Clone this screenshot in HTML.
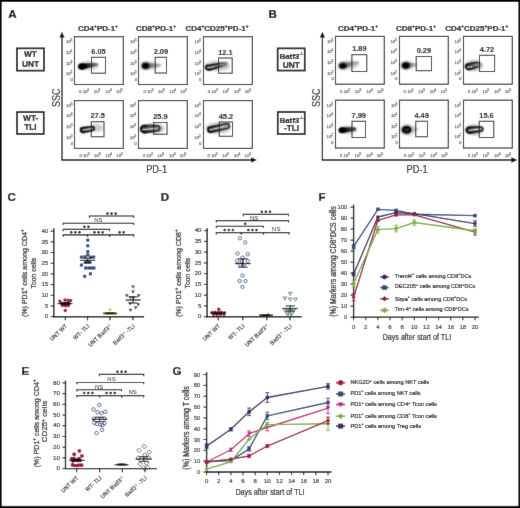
<!DOCTYPE html>
<html><head><meta charset="utf-8"><style>
html,body{margin:0;padding:0;background:#fff;width:520px;height:508px;overflow:hidden}
svg{display:block;will-change:transform}
text{font-family:"Liberation Sans", sans-serif}
</style></head><body>
<svg width="520" height="508" viewBox="0 0 520 508" font-family='"Liberation Sans", sans-serif'>
<filter id="gblur" x="0" y="0" width="520" height="508" filterUnits="userSpaceOnUse"><feConvolveMatrix order="3" kernelMatrix="0.0052 0.0619 0.0052 0.0619 0.7314 0.0619 0.0052 0.0619 0.0052" edgeMode="duplicate"/></filter><g filter="url(#gblur)"><rect x="0" y="0" width="520" height="508" fill="#fff"/>
<defs><filter id="b05" x="-50%" y="-50%" width="200%" height="200%"><feConvolveMatrix order="3" kernelMatrix="0.0311 0.1141 0.0311 0.1141 0.4191 0.1141 0.0311 0.1141 0.0311" edgeMode="none"/></filter><filter id="b1" x="-50%" y="-50%" width="200%" height="200%"><feGaussianBlur stdDeviation="1.1"/></filter><filter id="b04" x="-50%" y="-50%" width="200%" height="200%"><feConvolveMatrix order="3" kernelMatrix="0.0113 0.0838 0.0113 0.0838 0.6193 0.0838 0.0113 0.0838 0.0113" edgeMode="none"/></filter><filter id="b03" x="-50%" y="-50%" width="200%" height="200%"><feConvolveMatrix order="3" kernelMatrix="0.0016 0.0371 0.0016 0.0371 0.8450 0.0371 0.0016 0.0371 0.0016" edgeMode="none"/></filter></defs>
<text x="8.20" y="17.80" font-size="11.6" font-weight="bold" fill="#000" text-anchor="start"  stroke="#000" stroke-width="0.2">A</text>
<text x="268.60" y="17.80" font-size="11.6" font-weight="bold" fill="#000" text-anchor="start"  stroke="#000" stroke-width="0.2">B</text>
<rect x="16.95" y="48.35" width="27.00" height="22.30" stroke="#0a0a0a" stroke-width="1.7" fill="none" />
<text x="30.45" y="57.30" font-size="8.3" font-weight="bold" text-anchor="middle" fill="#111" stroke="#111" stroke-width="0.2">WT</text>
<text x="30.45" y="66.80" font-size="8.3" font-weight="bold" text-anchor="middle" fill="#111" stroke="#111" stroke-width="0.2">UNT</text>
<rect x="17.05" y="112.05" width="26.70" height="21.90" stroke="#0a0a0a" stroke-width="1.7" fill="none" />
<text x="30.70" y="120.70" font-size="8.3" font-weight="bold" text-anchor="middle" fill="#111" stroke="#111" stroke-width="0.2">WT-</text>
<text x="30.40" y="129.80" font-size="8.3" font-weight="bold" text-anchor="middle" fill="#111" stroke="#111" stroke-width="0.2">TLI</text>
<rect x="277.65" y="48.35" width="27.10" height="22.20" stroke="#0a0a0a" stroke-width="1.7" fill="none" />
<text x="291.40" y="58.50" font-size="7.9" font-weight="bold" text-anchor="middle" fill="#111" stroke="#111" stroke-width="0.2">Batf3<tspan dy="-3.4" font-size="4.4" font-weight="normal">-/-</tspan></text>
<text x="291.40" y="67.50" font-size="8.3" font-weight="bold" text-anchor="middle" fill="#111" stroke="#111" stroke-width="0.2">UNT</text>
<rect x="277.75" y="111.95" width="27.00" height="22.10" stroke="#0a0a0a" stroke-width="1.7" fill="none" />
<text x="291.45" y="122.60" font-size="7.9" font-weight="bold" text-anchor="middle" fill="#111" stroke="#111" stroke-width="0.2">Batf3<tspan dy="-3.4" font-size="4.4" font-weight="normal">-/-</tspan></text>
<text x="291.55" y="131.10" font-size="8.3" font-weight="bold" text-anchor="middle" fill="#111" stroke="#111" stroke-width="0.2">-TLI</text>
<text x="98.00" y="30.8" font-size="8.0" font-weight="bold" text-anchor="middle" fill="#111" stroke="#111" stroke-width="0.18"><tspan>CD4</tspan><tspan dy="-2.7" font-size="4.8">+</tspan><tspan dy="2.7">PD-1</tspan><tspan dy="-2.7" font-size="4.8">+</tspan></text>
<text x="156.00" y="30.8" font-size="8.0" font-weight="bold" text-anchor="middle" fill="#111" stroke="#111" stroke-width="0.18"><tspan>CD8</tspan><tspan dy="-2.7" font-size="4.8">+</tspan><tspan dy="2.7">PD-1</tspan><tspan dy="-2.7" font-size="4.8">+</tspan></text>
<text x="217.00" y="30.8" font-size="8.0" font-weight="bold" text-anchor="middle" fill="#111" stroke="#111" stroke-width="0.18"><tspan>CD4</tspan><tspan dy="-2.7" font-size="4.8">+</tspan><tspan dy="2.7">CD25</tspan><tspan dy="-2.7" font-size="4.8">+</tspan><tspan dy="2.7">PD-1</tspan><tspan dy="-2.7" font-size="4.8">+</tspan></text>
<text x="358.00" y="30.8" font-size="8.0" font-weight="bold" text-anchor="middle" fill="#111" stroke="#111" stroke-width="0.18"><tspan>CD4</tspan><tspan dy="-2.7" font-size="4.8">+</tspan><tspan dy="2.7">PD-1</tspan><tspan dy="-2.7" font-size="4.8">+</tspan></text>
<text x="416.00" y="30.8" font-size="8.0" font-weight="bold" text-anchor="middle" fill="#111" stroke="#111" stroke-width="0.18"><tspan>CD8</tspan><tspan dy="-2.7" font-size="4.8">+</tspan><tspan dy="2.7">PD-1</tspan><tspan dy="-2.7" font-size="4.8">+</tspan></text>
<text x="476.80" y="30.8" font-size="8.0" font-weight="bold" text-anchor="middle" fill="#111" stroke="#111" stroke-width="0.18"><tspan>CD4</tspan><tspan dy="-2.7" font-size="4.8">+</tspan><tspan dy="2.7">CD25</tspan><tspan dy="-2.7" font-size="4.8">+</tspan><tspan dy="2.7">PD-1</tspan><tspan dy="-2.7" font-size="4.8">+</tspan></text>
<line x1="62.00" y1="35.00" x2="62.00" y2="160.00" stroke="#111" stroke-width="1.3" />
<polygon points="59.40,37.5 62.00,31.8 64.60,37.5" fill="#111"/>
<line x1="61.35" y1="160.00" x2="254.00" y2="160.00" stroke="#111" stroke-width="1.3" />
<polygon points="251.00,157.3 257.00,160 251.00,162.7" fill="#111"/>
<text x="0" y="0" font-size="10.4" fill="#1a1a1a" stroke="#1a1a1a" stroke-width="0.2" text-anchor="middle" transform="translate(59.70 97.8) rotate(-90) scale(0.86 1)">SSC</text>
<text x="0" y="0" font-size="10.5" fill="#1a1a1a" stroke="#1a1a1a" stroke-width="0.2" text-anchor="middle" transform="translate(156.70 172.8) scale(0.88 1)">PD-1</text>
<line x1="322.40" y1="35.00" x2="322.40" y2="160.00" stroke="#111" stroke-width="1.3" />
<polygon points="319.80,37.5 322.40,31.8 325.00,37.5" fill="#111"/>
<line x1="321.75" y1="160.00" x2="514.40" y2="160.00" stroke="#111" stroke-width="1.3" />
<polygon points="511.40,157.3 517.40,160 511.40,162.7" fill="#111"/>
<text x="0" y="0" font-size="10.4" fill="#1a1a1a" stroke="#1a1a1a" stroke-width="0.2" text-anchor="middle" transform="translate(320.10 97.8) rotate(-90) scale(0.86 1)">SSC</text>
<text x="0" y="0" font-size="10.5" fill="#1a1a1a" stroke="#1a1a1a" stroke-width="0.2" text-anchor="middle" transform="translate(417.10 172.8) scale(0.88 1)">PD-1</text>
<rect x="74.50" y="36.70" width="48.80" height="47.80" stroke="#1e1e1e" stroke-width="1.1" fill="none" />
<text x="65.90" y="43.10" font-size="4.3" fill="#4a4a4a" stroke="#8a8a8a" stroke-width="0.25">10<tspan dx="-0.5" dy="-2.0" font-size="3.8">5</tspan></text>
<text x="65.90" y="53.50" font-size="4.3" fill="#4a4a4a" stroke="#8a8a8a" stroke-width="0.25">10<tspan dx="-0.5" dy="-2.0" font-size="3.8">4</tspan></text>
<text x="65.90" y="64.50" font-size="4.3" fill="#4a4a4a" stroke="#8a8a8a" stroke-width="0.25">10<tspan dx="-0.5" dy="-2.0" font-size="3.8">3</tspan></text>
<text x="65.90" y="74.90" font-size="4.3" fill="#4a4a4a" stroke="#8a8a8a" stroke-width="0.25">10<tspan dx="-0.5" dy="-2.0" font-size="3.8">2</tspan></text>
<text x="70.40" y="80.70" font-size="4.3" fill="#4a4a4a" stroke="#8a8a8a" stroke-width="0.25">0</text>
<text x="79.10" y="93.00" font-size="4.3" fill="#4a4a4a" stroke="#8a8a8a" stroke-width="0.25">0 10<tspan dx="-0.4" dy="-2.0" font-size="3.8">2</tspan></text>
<text x="93.80" y="93.00" font-size="4.3" fill="#4a4a4a" stroke="#8a8a8a" stroke-width="0.25">10<tspan dx="-0.4" dy="-2.0" font-size="3.8">3</tspan></text>
<text x="105.30" y="93.00" font-size="4.3" fill="#4a4a4a" stroke="#8a8a8a" stroke-width="0.25">10<tspan dx="-0.4" dy="-2.0" font-size="3.8">4</tspan></text>
<text x="116.00" y="93.00" font-size="4.3" fill="#4a4a4a" stroke="#8a8a8a" stroke-width="0.25">10<tspan dx="-0.4" dy="-2.0" font-size="3.8">5</tspan></text>
<g transform="rotate(0 82.20 66.60)"><ellipse cx="89.00" cy="65.50" rx="10.35" ry="4.32" fill="#6a6a6a" opacity="0.345" filter="url(#b1)"/><linearGradient id="g1" gradientUnits="userSpaceOnUse" x1="82.20" y1="0" x2="96.80" y2="0"><stop offset="0" stop-color="#050505"/><stop offset="0.35" stop-color="#1a1a1a"/><stop offset="1" stop-color="#9a9a9a"/></linearGradient><path d="M82.20,63.60 A4.00,3.00 0 0 0 82.20,69.60 L96.80,65.20 A0.70,0.70 0 0 0 96.80,63.80 Z" fill="url(#g1)" stroke="#2a2a2a" stroke-width="0.7" filter="url(#b04)"/><ellipse cx="82.20" cy="66.60" rx="4.00" ry="3.00" fill="#050505" filter="url(#b05)"/></g>
<rect x="91.50" y="57.30" width="14.00" height="15.90" stroke="#222" stroke-width="1" fill="none" />
<text x="98.50" y="54.00" font-size="7.4" font-weight="bold" fill="#111" text-anchor="middle" stroke="#111" stroke-width="0.08">6.05</text>
<rect x="138.50" y="36.70" width="48.80" height="47.80" stroke="#1e1e1e" stroke-width="1.1" fill="none" />
<text x="130.20" y="43.10" font-size="4.3" fill="#4a4a4a" stroke="#8a8a8a" stroke-width="0.25">10<tspan dx="-0.5" dy="-2.0" font-size="3.8">5</tspan></text>
<text x="130.20" y="53.50" font-size="4.3" fill="#4a4a4a" stroke="#8a8a8a" stroke-width="0.25">10<tspan dx="-0.5" dy="-2.0" font-size="3.8">4</tspan></text>
<text x="130.20" y="64.50" font-size="4.3" fill="#4a4a4a" stroke="#8a8a8a" stroke-width="0.25">10<tspan dx="-0.5" dy="-2.0" font-size="3.8">3</tspan></text>
<text x="130.20" y="74.90" font-size="4.3" fill="#4a4a4a" stroke="#8a8a8a" stroke-width="0.25">10<tspan dx="-0.5" dy="-2.0" font-size="3.8">2</tspan></text>
<text x="134.70" y="80.70" font-size="4.3" fill="#4a4a4a" stroke="#8a8a8a" stroke-width="0.25">0</text>
<text x="143.40" y="93.00" font-size="4.3" fill="#4a4a4a" stroke="#8a8a8a" stroke-width="0.25">0 10<tspan dx="-0.4" dy="-2.0" font-size="3.8">2</tspan></text>
<text x="158.10" y="93.00" font-size="4.3" fill="#4a4a4a" stroke="#8a8a8a" stroke-width="0.25">10<tspan dx="-0.4" dy="-2.0" font-size="3.8">3</tspan></text>
<text x="169.60" y="93.00" font-size="4.3" fill="#4a4a4a" stroke="#8a8a8a" stroke-width="0.25">10<tspan dx="-0.4" dy="-2.0" font-size="3.8">4</tspan></text>
<text x="180.30" y="93.00" font-size="4.3" fill="#4a4a4a" stroke="#8a8a8a" stroke-width="0.25">10<tspan dx="-0.4" dy="-2.0" font-size="3.8">5</tspan></text>
<g transform="rotate(0 145.50 65.80)"><ellipse cx="151.00" cy="65.60" rx="8.62" ry="4.08" fill="#6a6a6a" opacity="0.230" filter="url(#b1)"/><linearGradient id="g2" gradientUnits="userSpaceOnUse" x1="145.50" y1="0" x2="160.00" y2="0"><stop offset="0" stop-color="#444"/><stop offset="1" stop-color="#c8c8c8"/></linearGradient><path d="M145.50,62.90 A3.40,2.90 0 0 0 145.50,68.70 L160.00,66.00 A0.80,0.80 0 0 0 160.00,64.40 Z" fill="url(#g2)" stroke="#777" stroke-width="0.5" filter="url(#b05)"/><ellipse cx="145.50" cy="65.80" rx="4.40" ry="3.80" fill="#555" filter="url(#b1)"/><ellipse cx="145.50" cy="65.80" rx="3.40" ry="2.90" fill="#050505" filter="url(#b05)"/></g>
<rect x="155.20" y="57.30" width="11.30" height="15.70" stroke="#222" stroke-width="1" fill="none" />
<text x="160.85" y="54.00" font-size="7.4" font-weight="bold" fill="#111" text-anchor="middle" stroke="#111" stroke-width="0.08">2.09</text>
<rect x="203.50" y="36.70" width="48.80" height="47.80" stroke="#1e1e1e" stroke-width="1.1" fill="none" />
<text x="194.60" y="43.10" font-size="4.3" fill="#4a4a4a" stroke="#8a8a8a" stroke-width="0.25">10<tspan dx="-0.5" dy="-2.0" font-size="3.8">5</tspan></text>
<text x="194.60" y="53.50" font-size="4.3" fill="#4a4a4a" stroke="#8a8a8a" stroke-width="0.25">10<tspan dx="-0.5" dy="-2.0" font-size="3.8">4</tspan></text>
<text x="194.60" y="64.50" font-size="4.3" fill="#4a4a4a" stroke="#8a8a8a" stroke-width="0.25">10<tspan dx="-0.5" dy="-2.0" font-size="3.8">3</tspan></text>
<text x="194.60" y="74.90" font-size="4.3" fill="#4a4a4a" stroke="#8a8a8a" stroke-width="0.25">10<tspan dx="-0.5" dy="-2.0" font-size="3.8">2</tspan></text>
<text x="199.10" y="80.70" font-size="4.3" fill="#4a4a4a" stroke="#8a8a8a" stroke-width="0.25">0</text>
<text x="207.80" y="93.00" font-size="4.3" fill="#4a4a4a" stroke="#8a8a8a" stroke-width="0.25">0 10<tspan dx="-0.4" dy="-2.0" font-size="3.8">2</tspan></text>
<text x="222.50" y="93.00" font-size="4.3" fill="#4a4a4a" stroke="#8a8a8a" stroke-width="0.25">10<tspan dx="-0.4" dy="-2.0" font-size="3.8">3</tspan></text>
<text x="234.00" y="93.00" font-size="4.3" fill="#4a4a4a" stroke="#8a8a8a" stroke-width="0.25">10<tspan dx="-0.4" dy="-2.0" font-size="3.8">4</tspan></text>
<text x="244.70" y="93.00" font-size="4.3" fill="#4a4a4a" stroke="#8a8a8a" stroke-width="0.25">10<tspan dx="-0.4" dy="-2.0" font-size="3.8">5</tspan></text>
<g transform="rotate(0 209.50 67.60)"><ellipse cx="217.00" cy="66.00" rx="12.65" ry="5.04" fill="#6a6a6a" opacity="0.402" filter="url(#b1)"/><linearGradient id="g3" gradientUnits="userSpaceOnUse" x1="209.50" y1="0" x2="225.80" y2="0"><stop offset="0" stop-color="#3a3a3a"/><stop offset="1" stop-color="#9a9a9a"/></linearGradient><linearGradient id="g3s" gradientUnits="userSpaceOnUse" x1="209.50" y1="0" x2="227.10" y2="0"><stop offset="0" stop-color="#050505"/><stop offset="0.4" stop-color="#151515"/><stop offset="1" stop-color="#888"/></linearGradient><path d="M209.50,64.90 A4.00,2.70 0 0 0 209.50,70.30 L225.80,65.10 A1.30,1.30 0 0 0 225.80,62.50 Z" fill="url(#g3)" stroke="url(#g3s)" stroke-width="1.5" filter="url(#b04)"/><path d="M207.50,67.80 L214.00,66.60" stroke="#e8e8e8" stroke-width="0.8" stroke-linecap="round" filter="url(#b03)"/></g>
<rect x="218.50" y="58.00" width="13.70" height="15.20" stroke="#222" stroke-width="1" fill="none" />
<text x="225.35" y="54.70" font-size="7.4" font-weight="bold" fill="#111" text-anchor="middle" stroke="#111" stroke-width="0.08">12.1</text>
<rect x="74.50" y="100.60" width="48.80" height="47.80" stroke="#1e1e1e" stroke-width="1.1" fill="none" />
<text x="66.20" y="107.00" font-size="4.3" fill="#4a4a4a" stroke="#8a8a8a" stroke-width="0.25">10<tspan dx="-0.5" dy="-2.0" font-size="3.8">5</tspan></text>
<text x="66.20" y="117.40" font-size="4.3" fill="#4a4a4a" stroke="#8a8a8a" stroke-width="0.25">10<tspan dx="-0.5" dy="-2.0" font-size="3.8">4</tspan></text>
<text x="66.20" y="128.40" font-size="4.3" fill="#4a4a4a" stroke="#8a8a8a" stroke-width="0.25">10<tspan dx="-0.5" dy="-2.0" font-size="3.8">3</tspan></text>
<text x="66.20" y="138.80" font-size="4.3" fill="#4a4a4a" stroke="#8a8a8a" stroke-width="0.25">10<tspan dx="-0.5" dy="-2.0" font-size="3.8">2</tspan></text>
<text x="70.70" y="144.60" font-size="4.3" fill="#4a4a4a" stroke="#8a8a8a" stroke-width="0.25">0</text>
<text x="79.40" y="156.90" font-size="4.3" fill="#4a4a4a" stroke="#8a8a8a" stroke-width="0.25">0 10<tspan dx="-0.4" dy="-2.0" font-size="3.8">2</tspan></text>
<text x="94.10" y="156.90" font-size="4.3" fill="#4a4a4a" stroke="#8a8a8a" stroke-width="0.25">10<tspan dx="-0.4" dy="-2.0" font-size="3.8">3</tspan></text>
<text x="105.60" y="156.90" font-size="4.3" fill="#4a4a4a" stroke="#8a8a8a" stroke-width="0.25">10<tspan dx="-0.4" dy="-2.0" font-size="3.8">4</tspan></text>
<text x="116.30" y="156.90" font-size="4.3" fill="#4a4a4a" stroke="#8a8a8a" stroke-width="0.25">10<tspan dx="-0.4" dy="-2.0" font-size="3.8">5</tspan></text>
<g transform="rotate(0 83.60 130.00)"><ellipse cx="96.00" cy="127.80" rx="7.47" ry="4.08" fill="#6a6a6a" opacity="0.322" filter="url(#b1)"/><linearGradient id="g4" gradientUnits="userSpaceOnUse" x1="83.60" y1="0" x2="92.40" y2="0"><stop offset="0" stop-color="#3a3a3a"/><stop offset="1" stop-color="#9a9a9a"/></linearGradient><linearGradient id="g4s" gradientUnits="userSpaceOnUse" x1="83.60" y1="0" x2="94.20" y2="0"><stop offset="0" stop-color="#050505"/><stop offset="0.8" stop-color="#151515"/><stop offset="1" stop-color="#222"/></linearGradient><path d="M83.60,127.60 A3.00,2.40 0 0 0 83.60,132.40 L92.40,130.30 A1.80,1.80 0 0 0 92.40,126.70 Z" fill="url(#g4)" stroke="url(#g4s)" stroke-width="2.0" filter="url(#b04)"/><path d="M82.80,130.10 L90.80,128.80" stroke="#e8e8e8" stroke-width="0.8" stroke-linecap="round" filter="url(#b03)"/></g>
<rect x="91.25" y="121.75" width="12.75" height="15.00" stroke="#222" stroke-width="1" fill="none" />
<text x="97.62" y="118.45" font-size="7.4" font-weight="bold" fill="#111" text-anchor="middle" stroke="#111" stroke-width="0.08">27.5</text>
<rect x="138.50" y="100.60" width="48.80" height="47.80" stroke="#1e1e1e" stroke-width="1.1" fill="none" />
<text x="129.70" y="107.00" font-size="4.3" fill="#4a4a4a" stroke="#8a8a8a" stroke-width="0.25">10<tspan dx="-0.5" dy="-2.0" font-size="3.8">5</tspan></text>
<text x="129.70" y="117.40" font-size="4.3" fill="#4a4a4a" stroke="#8a8a8a" stroke-width="0.25">10<tspan dx="-0.5" dy="-2.0" font-size="3.8">4</tspan></text>
<text x="129.70" y="128.40" font-size="4.3" fill="#4a4a4a" stroke="#8a8a8a" stroke-width="0.25">10<tspan dx="-0.5" dy="-2.0" font-size="3.8">3</tspan></text>
<text x="129.70" y="138.80" font-size="4.3" fill="#4a4a4a" stroke="#8a8a8a" stroke-width="0.25">10<tspan dx="-0.5" dy="-2.0" font-size="3.8">2</tspan></text>
<text x="134.20" y="144.60" font-size="4.3" fill="#4a4a4a" stroke="#8a8a8a" stroke-width="0.25">0</text>
<text x="142.90" y="156.90" font-size="4.3" fill="#4a4a4a" stroke="#8a8a8a" stroke-width="0.25">0 10<tspan dx="-0.4" dy="-2.0" font-size="3.8">2</tspan></text>
<text x="157.60" y="156.90" font-size="4.3" fill="#4a4a4a" stroke="#8a8a8a" stroke-width="0.25">10<tspan dx="-0.4" dy="-2.0" font-size="3.8">3</tspan></text>
<text x="169.10" y="156.90" font-size="4.3" fill="#4a4a4a" stroke="#8a8a8a" stroke-width="0.25">10<tspan dx="-0.4" dy="-2.0" font-size="3.8">4</tspan></text>
<text x="179.80" y="156.90" font-size="4.3" fill="#4a4a4a" stroke="#8a8a8a" stroke-width="0.25">10<tspan dx="-0.4" dy="-2.0" font-size="3.8">5</tspan></text>
<g transform="rotate(0 144.50 129.10)"><ellipse cx="155.00" cy="128.50" rx="9.20" ry="5.04" fill="#6a6a6a" opacity="0.460" filter="url(#b1)"/><linearGradient id="g5" gradientUnits="userSpaceOnUse" x1="144.50" y1="0" x2="157.40" y2="0"><stop offset="0" stop-color="#3a3a3a"/><stop offset="1" stop-color="#9a9a9a"/></linearGradient><linearGradient id="g5s" gradientUnits="userSpaceOnUse" x1="144.50" y1="0" x2="159.70" y2="0"><stop offset="0" stop-color="#050505"/><stop offset="0.75" stop-color="#151515"/><stop offset="1" stop-color="#333"/></linearGradient><path d="M144.50,125.50 A3.80,3.60 0 0 0 144.50,132.70 L157.40,130.60 A2.30,2.30 0 0 0 157.40,126.00 Z" fill="url(#g5)" stroke="url(#g5s)" stroke-width="1.9" filter="url(#b04)"/><path d="M143.00,129.50 L155.00,128.60" stroke="#e8e8e8" stroke-width="1.0" stroke-linecap="round" filter="url(#b03)"/><ellipse cx="149.5" cy="125.5" rx="2.2" ry="1.2" fill="#666" filter="url(#b05)"/></g>
<rect x="153.75" y="122.50" width="13.25" height="11.75" stroke="#222" stroke-width="1" fill="none" />
<text x="160.38" y="119.20" font-size="7.4" font-weight="bold" fill="#111" text-anchor="middle" stroke="#111" stroke-width="0.08">25.9</text>
<rect x="203.50" y="100.60" width="48.80" height="47.80" stroke="#1e1e1e" stroke-width="1.1" fill="none" />
<text x="194.40" y="107.00" font-size="4.3" fill="#4a4a4a" stroke="#8a8a8a" stroke-width="0.25">10<tspan dx="-0.5" dy="-2.0" font-size="3.8">5</tspan></text>
<text x="194.40" y="117.40" font-size="4.3" fill="#4a4a4a" stroke="#8a8a8a" stroke-width="0.25">10<tspan dx="-0.5" dy="-2.0" font-size="3.8">4</tspan></text>
<text x="194.40" y="128.40" font-size="4.3" fill="#4a4a4a" stroke="#8a8a8a" stroke-width="0.25">10<tspan dx="-0.5" dy="-2.0" font-size="3.8">3</tspan></text>
<text x="194.40" y="138.80" font-size="4.3" fill="#4a4a4a" stroke="#8a8a8a" stroke-width="0.25">10<tspan dx="-0.5" dy="-2.0" font-size="3.8">2</tspan></text>
<text x="198.90" y="144.60" font-size="4.3" fill="#4a4a4a" stroke="#8a8a8a" stroke-width="0.25">0</text>
<text x="207.60" y="156.90" font-size="4.3" fill="#4a4a4a" stroke="#8a8a8a" stroke-width="0.25">0 10<tspan dx="-0.4" dy="-2.0" font-size="3.8">2</tspan></text>
<text x="222.30" y="156.90" font-size="4.3" fill="#4a4a4a" stroke="#8a8a8a" stroke-width="0.25">10<tspan dx="-0.4" dy="-2.0" font-size="3.8">3</tspan></text>
<text x="233.80" y="156.90" font-size="4.3" fill="#4a4a4a" stroke="#8a8a8a" stroke-width="0.25">10<tspan dx="-0.4" dy="-2.0" font-size="3.8">4</tspan></text>
<text x="244.50" y="156.90" font-size="4.3" fill="#4a4a4a" stroke="#8a8a8a" stroke-width="0.25">10<tspan dx="-0.4" dy="-2.0" font-size="3.8">5</tspan></text>
<g transform="rotate(0 210.80 129.70)"><ellipse cx="218.00" cy="128.00" rx="12.65" ry="5.40" fill="#6a6a6a" opacity="0.402" filter="url(#b1)"/><linearGradient id="g6" gradientUnits="userSpaceOnUse" x1="210.80" y1="0" x2="227.00" y2="0"><stop offset="0" stop-color="#3a3a3a"/><stop offset="1" stop-color="#9a9a9a"/></linearGradient><linearGradient id="g6s" gradientUnits="userSpaceOnUse" x1="210.80" y1="0" x2="229.50" y2="0"><stop offset="0" stop-color="#050505"/><stop offset="0.8" stop-color="#151515"/><stop offset="1" stop-color="#2a2a2a"/></linearGradient><path d="M210.80,126.90 A3.00,2.80 0 0 0 210.80,132.50 L227.00,128.50 A2.50,2.50 0 0 0 227.00,123.50 Z" fill="url(#g6)" stroke="url(#g6s)" stroke-width="1.6" filter="url(#b04)"/><path d="M210.00,129.80 L224.00,126.60" stroke="#e8e8e8" stroke-width="0.9" stroke-linecap="round" filter="url(#b03)"/></g>
<rect x="219.25" y="122.00" width="13.25" height="14.25" stroke="#222" stroke-width="1" fill="none" />
<text x="225.88" y="118.70" font-size="7.4" font-weight="bold" fill="#111" text-anchor="middle" stroke="#111" stroke-width="0.08">45.2</text>
<rect x="335.50" y="36.40" width="48.80" height="47.80" stroke="#1e1e1e" stroke-width="1.1" fill="none" />
<text x="326.90" y="42.80" font-size="4.3" fill="#4a4a4a" stroke="#8a8a8a" stroke-width="0.25">10<tspan dx="-0.5" dy="-2.0" font-size="3.8">5</tspan></text>
<text x="326.90" y="53.20" font-size="4.3" fill="#4a4a4a" stroke="#8a8a8a" stroke-width="0.25">10<tspan dx="-0.5" dy="-2.0" font-size="3.8">4</tspan></text>
<text x="326.90" y="64.20" font-size="4.3" fill="#4a4a4a" stroke="#8a8a8a" stroke-width="0.25">10<tspan dx="-0.5" dy="-2.0" font-size="3.8">3</tspan></text>
<text x="326.90" y="74.60" font-size="4.3" fill="#4a4a4a" stroke="#8a8a8a" stroke-width="0.25">10<tspan dx="-0.5" dy="-2.0" font-size="3.8">2</tspan></text>
<text x="331.40" y="80.40" font-size="4.3" fill="#4a4a4a" stroke="#8a8a8a" stroke-width="0.25">0</text>
<text x="340.10" y="92.70" font-size="4.3" fill="#4a4a4a" stroke="#8a8a8a" stroke-width="0.25">0 10<tspan dx="-0.4" dy="-2.0" font-size="3.8">2</tspan></text>
<text x="354.80" y="92.70" font-size="4.3" fill="#4a4a4a" stroke="#8a8a8a" stroke-width="0.25">10<tspan dx="-0.4" dy="-2.0" font-size="3.8">3</tspan></text>
<text x="366.30" y="92.70" font-size="4.3" fill="#4a4a4a" stroke="#8a8a8a" stroke-width="0.25">10<tspan dx="-0.4" dy="-2.0" font-size="3.8">4</tspan></text>
<text x="377.00" y="92.70" font-size="4.3" fill="#4a4a4a" stroke="#8a8a8a" stroke-width="0.25">10<tspan dx="-0.4" dy="-2.0" font-size="3.8">5</tspan></text>
<g transform="rotate(0 342.80 65.80)"><ellipse cx="349.00" cy="64.80" rx="9.77" ry="4.56" fill="#6a6a6a" opacity="0.287" filter="url(#b1)"/><linearGradient id="g7" gradientUnits="userSpaceOnUse" x1="342.80" y1="0" x2="358.00" y2="0"><stop offset="0" stop-color="#444"/><stop offset="1" stop-color="#c8c8c8"/></linearGradient><path d="M342.80,63.20 A3.40,2.60 0 0 0 342.80,68.40 L358.00,63.50 A0.90,0.90 0 0 0 358.00,61.70 Z" fill="url(#g7)" stroke="#777" stroke-width="0.5" filter="url(#b05)"/><ellipse cx="342.80" cy="65.80" rx="4.40" ry="3.50" fill="#555" filter="url(#b1)"/><ellipse cx="342.80" cy="65.80" rx="3.40" ry="2.60" fill="#050505" filter="url(#b05)"/></g>
<rect x="351.90" y="54.70" width="14.90" height="16.80" stroke="#222" stroke-width="1" fill="none" />
<text x="359.35" y="51.40" font-size="7.4" font-weight="bold" fill="#111" text-anchor="middle" stroke="#111" stroke-width="0.08">1.89</text>
<rect x="399.50" y="36.40" width="48.80" height="47.80" stroke="#1e1e1e" stroke-width="1.1" fill="none" />
<text x="390.40" y="42.80" font-size="4.3" fill="#4a4a4a" stroke="#8a8a8a" stroke-width="0.25">10<tspan dx="-0.5" dy="-2.0" font-size="3.8">5</tspan></text>
<text x="390.40" y="53.20" font-size="4.3" fill="#4a4a4a" stroke="#8a8a8a" stroke-width="0.25">10<tspan dx="-0.5" dy="-2.0" font-size="3.8">4</tspan></text>
<text x="390.40" y="64.20" font-size="4.3" fill="#4a4a4a" stroke="#8a8a8a" stroke-width="0.25">10<tspan dx="-0.5" dy="-2.0" font-size="3.8">3</tspan></text>
<text x="390.40" y="74.60" font-size="4.3" fill="#4a4a4a" stroke="#8a8a8a" stroke-width="0.25">10<tspan dx="-0.5" dy="-2.0" font-size="3.8">2</tspan></text>
<text x="394.90" y="80.40" font-size="4.3" fill="#4a4a4a" stroke="#8a8a8a" stroke-width="0.25">0</text>
<text x="403.60" y="92.70" font-size="4.3" fill="#4a4a4a" stroke="#8a8a8a" stroke-width="0.25">0 10<tspan dx="-0.4" dy="-2.0" font-size="3.8">2</tspan></text>
<text x="418.30" y="92.70" font-size="4.3" fill="#4a4a4a" stroke="#8a8a8a" stroke-width="0.25">10<tspan dx="-0.4" dy="-2.0" font-size="3.8">3</tspan></text>
<text x="429.80" y="92.70" font-size="4.3" fill="#4a4a4a" stroke="#8a8a8a" stroke-width="0.25">10<tspan dx="-0.4" dy="-2.0" font-size="3.8">4</tspan></text>
<text x="440.50" y="92.70" font-size="4.3" fill="#4a4a4a" stroke="#8a8a8a" stroke-width="0.25">10<tspan dx="-0.4" dy="-2.0" font-size="3.8">5</tspan></text>
<g transform="rotate(0 405.80 65.50)"><ellipse cx="408.00" cy="65.50" rx="6.90" ry="4.20" fill="#6a6a6a" opacity="0.253" filter="url(#b1)"/><linearGradient id="g8" gradientUnits="userSpaceOnUse" x1="405.80" y1="0" x2="415.50" y2="0"><stop offset="0" stop-color="#444"/><stop offset="1" stop-color="#c8c8c8"/></linearGradient><path d="M405.80,62.60 A3.60,2.90 0 0 0 405.80,68.40 L415.50,65.70 A0.90,0.90 0 0 0 415.50,63.90 Z" fill="url(#g8)" stroke="#777" stroke-width="0.5" filter="url(#b05)"/><ellipse cx="405.80" cy="65.50" rx="4.60" ry="3.80" fill="#555" filter="url(#b1)"/><ellipse cx="405.80" cy="65.50" rx="3.60" ry="2.90" fill="#050505" filter="url(#b05)"/></g>
<rect x="416.20" y="56.50" width="15.30" height="14.20" stroke="#222" stroke-width="1" fill="none" />
<text x="423.85" y="53.20" font-size="7.4" font-weight="bold" fill="#111" text-anchor="middle" stroke="#111" stroke-width="0.08">0.29</text>
<rect x="463.50" y="36.40" width="48.80" height="47.80" stroke="#1e1e1e" stroke-width="1.1" fill="none" />
<text x="454.60" y="42.80" font-size="4.3" fill="#4a4a4a" stroke="#8a8a8a" stroke-width="0.25">10<tspan dx="-0.5" dy="-2.0" font-size="3.8">5</tspan></text>
<text x="454.60" y="53.20" font-size="4.3" fill="#4a4a4a" stroke="#8a8a8a" stroke-width="0.25">10<tspan dx="-0.5" dy="-2.0" font-size="3.8">4</tspan></text>
<text x="454.60" y="64.20" font-size="4.3" fill="#4a4a4a" stroke="#8a8a8a" stroke-width="0.25">10<tspan dx="-0.5" dy="-2.0" font-size="3.8">3</tspan></text>
<text x="454.60" y="74.60" font-size="4.3" fill="#4a4a4a" stroke="#8a8a8a" stroke-width="0.25">10<tspan dx="-0.5" dy="-2.0" font-size="3.8">2</tspan></text>
<text x="459.10" y="80.40" font-size="4.3" fill="#4a4a4a" stroke="#8a8a8a" stroke-width="0.25">0</text>
<text x="467.80" y="92.70" font-size="4.3" fill="#4a4a4a" stroke="#8a8a8a" stroke-width="0.25">0 10<tspan dx="-0.4" dy="-2.0" font-size="3.8">2</tspan></text>
<text x="482.50" y="92.70" font-size="4.3" fill="#4a4a4a" stroke="#8a8a8a" stroke-width="0.25">10<tspan dx="-0.4" dy="-2.0" font-size="3.8">3</tspan></text>
<text x="494.00" y="92.70" font-size="4.3" fill="#4a4a4a" stroke="#8a8a8a" stroke-width="0.25">10<tspan dx="-0.4" dy="-2.0" font-size="3.8">4</tspan></text>
<text x="504.70" y="92.70" font-size="4.3" fill="#4a4a4a" stroke="#8a8a8a" stroke-width="0.25">10<tspan dx="-0.4" dy="-2.0" font-size="3.8">5</tspan></text>
<g transform="rotate(0 469.40 66.60)"><ellipse cx="474.00" cy="65.50" rx="9.20" ry="5.40" fill="#6a6a6a" opacity="0.460" filter="url(#b1)"/><linearGradient id="g9" gradientUnits="userSpaceOnUse" x1="469.40" y1="0" x2="477.50" y2="0"><stop offset="0" stop-color="#3a3a3a"/><stop offset="1" stop-color="#9a9a9a"/></linearGradient><linearGradient id="g9s" gradientUnits="userSpaceOnUse" x1="469.40" y1="0" x2="479.70" y2="0"><stop offset="0" stop-color="#050505"/><stop offset="0.55" stop-color="#151515"/><stop offset="1" stop-color="#666"/></linearGradient><path d="M469.40,63.60 A3.80,3.00 0 0 0 469.40,69.60 L477.50,66.80 A2.20,2.20 0 0 0 477.50,62.40 Z" fill="url(#g9)" stroke="url(#g9s)" stroke-width="1.9" filter="url(#b04)"/><path d="M467.50,67.20 L472.00,66.80" stroke="#e8e8e8" stroke-width="1.0" stroke-linecap="round" filter="url(#b03)"/></g>
<rect x="479.50" y="55.30" width="15.10" height="16.20" stroke="#222" stroke-width="1" fill="none" />
<text x="487.05" y="52.00" font-size="7.4" font-weight="bold" fill="#111" text-anchor="middle" stroke="#111" stroke-width="0.08">4.72</text>
<rect x="335.50" y="100.20" width="48.80" height="47.80" stroke="#1e1e1e" stroke-width="1.1" fill="none" />
<text x="326.60" y="106.60" font-size="4.3" fill="#4a4a4a" stroke="#8a8a8a" stroke-width="0.25">10<tspan dx="-0.5" dy="-2.0" font-size="3.8">5</tspan></text>
<text x="326.60" y="117.00" font-size="4.3" fill="#4a4a4a" stroke="#8a8a8a" stroke-width="0.25">10<tspan dx="-0.5" dy="-2.0" font-size="3.8">4</tspan></text>
<text x="326.60" y="128.00" font-size="4.3" fill="#4a4a4a" stroke="#8a8a8a" stroke-width="0.25">10<tspan dx="-0.5" dy="-2.0" font-size="3.8">3</tspan></text>
<text x="326.60" y="138.40" font-size="4.3" fill="#4a4a4a" stroke="#8a8a8a" stroke-width="0.25">10<tspan dx="-0.5" dy="-2.0" font-size="3.8">2</tspan></text>
<text x="331.10" y="144.20" font-size="4.3" fill="#4a4a4a" stroke="#8a8a8a" stroke-width="0.25">0</text>
<text x="339.80" y="156.50" font-size="4.3" fill="#4a4a4a" stroke="#8a8a8a" stroke-width="0.25">0 10<tspan dx="-0.4" dy="-2.0" font-size="3.8">2</tspan></text>
<text x="354.50" y="156.50" font-size="4.3" fill="#4a4a4a" stroke="#8a8a8a" stroke-width="0.25">10<tspan dx="-0.4" dy="-2.0" font-size="3.8">3</tspan></text>
<text x="366.00" y="156.50" font-size="4.3" fill="#4a4a4a" stroke="#8a8a8a" stroke-width="0.25">10<tspan dx="-0.4" dy="-2.0" font-size="3.8">4</tspan></text>
<text x="376.70" y="156.50" font-size="4.3" fill="#4a4a4a" stroke="#8a8a8a" stroke-width="0.25">10<tspan dx="-0.4" dy="-2.0" font-size="3.8">5</tspan></text>
<g transform="rotate(0 342.20 130.20)"><ellipse cx="348.00" cy="129.80" rx="9.20" ry="4.20" fill="#6a6a6a" opacity="0.345" filter="url(#b1)"/><linearGradient id="g10" gradientUnits="userSpaceOnUse" x1="342.20" y1="0" x2="354.50" y2="0"><stop offset="0" stop-color="#050505"/><stop offset="0.35" stop-color="#1a1a1a"/><stop offset="1" stop-color="#555"/></linearGradient><path d="M342.20,127.50 A3.40,2.70 0 0 0 342.20,132.90 L354.50,130.60 A1.40,1.40 0 0 0 354.50,127.80 Z" fill="url(#g10)" stroke="#2a2a2a" stroke-width="0.7" filter="url(#b04)"/><ellipse cx="342.20" cy="130.20" rx="3.40" ry="2.70" fill="#050505" filter="url(#b05)"/></g>
<rect x="352.00" y="121.25" width="13.50" height="16.25" stroke="#222" stroke-width="1" fill="none" />
<text x="358.75" y="117.95" font-size="7.4" font-weight="bold" fill="#111" text-anchor="middle" stroke="#111" stroke-width="0.08">7.99</text>
<rect x="399.50" y="100.20" width="48.80" height="47.80" stroke="#1e1e1e" stroke-width="1.1" fill="none" />
<text x="390.90" y="106.60" font-size="4.3" fill="#4a4a4a" stroke="#8a8a8a" stroke-width="0.25">10<tspan dx="-0.5" dy="-2.0" font-size="3.8">5</tspan></text>
<text x="390.90" y="117.00" font-size="4.3" fill="#4a4a4a" stroke="#8a8a8a" stroke-width="0.25">10<tspan dx="-0.5" dy="-2.0" font-size="3.8">4</tspan></text>
<text x="390.90" y="128.00" font-size="4.3" fill="#4a4a4a" stroke="#8a8a8a" stroke-width="0.25">10<tspan dx="-0.5" dy="-2.0" font-size="3.8">3</tspan></text>
<text x="390.90" y="138.40" font-size="4.3" fill="#4a4a4a" stroke="#8a8a8a" stroke-width="0.25">10<tspan dx="-0.5" dy="-2.0" font-size="3.8">2</tspan></text>
<text x="395.40" y="144.20" font-size="4.3" fill="#4a4a4a" stroke="#8a8a8a" stroke-width="0.25">0</text>
<text x="404.10" y="156.50" font-size="4.3" fill="#4a4a4a" stroke="#8a8a8a" stroke-width="0.25">0 10<tspan dx="-0.4" dy="-2.0" font-size="3.8">2</tspan></text>
<text x="418.80" y="156.50" font-size="4.3" fill="#4a4a4a" stroke="#8a8a8a" stroke-width="0.25">10<tspan dx="-0.4" dy="-2.0" font-size="3.8">3</tspan></text>
<text x="430.30" y="156.50" font-size="4.3" fill="#4a4a4a" stroke="#8a8a8a" stroke-width="0.25">10<tspan dx="-0.4" dy="-2.0" font-size="3.8">4</tspan></text>
<text x="441.00" y="156.50" font-size="4.3" fill="#4a4a4a" stroke="#8a8a8a" stroke-width="0.25">10<tspan dx="-0.4" dy="-2.0" font-size="3.8">5</tspan></text>
<g transform="rotate(0 406.60 129.80)"><ellipse cx="408.00" cy="129.80" rx="8.05" ry="5.40" fill="#6a6a6a" opacity="0.322" filter="url(#b1)"/><path d="M406.60,126.40 A4.30,3.40 0 0 0 406.60,133.20 L417.50,130.50 A1.20,1.20 0 0 0 417.50,128.10 Z" fill="#bbb" opacity="0.7" filter="url(#b05)"/><ellipse cx="406.60" cy="129.80" rx="5.20" ry="4.30" fill="#666" filter="url(#b1)"/><ellipse cx="406.60" cy="129.80" rx="3.80" ry="2.90" fill="#222" stroke="#050505" stroke-width="1.8" filter="url(#b04)"/><path d="M406.00,129.80 L407.20,129.80" stroke="#e8e8e8" stroke-width="1.2" stroke-linecap="round" filter="url(#b03)"/></g>
<rect x="415.75" y="121.25" width="11.75" height="15.50" stroke="#222" stroke-width="1" fill="none" />
<text x="421.62" y="117.95" font-size="7.4" font-weight="bold" fill="#111" text-anchor="middle" stroke="#111" stroke-width="0.08">4.49</text>
<rect x="463.50" y="100.20" width="48.80" height="47.80" stroke="#1e1e1e" stroke-width="1.1" fill="none" />
<text x="454.60" y="106.60" font-size="4.3" fill="#4a4a4a" stroke="#8a8a8a" stroke-width="0.25">10<tspan dx="-0.5" dy="-2.0" font-size="3.8">5</tspan></text>
<text x="454.60" y="117.00" font-size="4.3" fill="#4a4a4a" stroke="#8a8a8a" stroke-width="0.25">10<tspan dx="-0.5" dy="-2.0" font-size="3.8">4</tspan></text>
<text x="454.60" y="128.00" font-size="4.3" fill="#4a4a4a" stroke="#8a8a8a" stroke-width="0.25">10<tspan dx="-0.5" dy="-2.0" font-size="3.8">3</tspan></text>
<text x="454.60" y="138.40" font-size="4.3" fill="#4a4a4a" stroke="#8a8a8a" stroke-width="0.25">10<tspan dx="-0.5" dy="-2.0" font-size="3.8">2</tspan></text>
<text x="459.10" y="144.20" font-size="4.3" fill="#4a4a4a" stroke="#8a8a8a" stroke-width="0.25">0</text>
<text x="467.80" y="156.50" font-size="4.3" fill="#4a4a4a" stroke="#8a8a8a" stroke-width="0.25">0 10<tspan dx="-0.4" dy="-2.0" font-size="3.8">2</tspan></text>
<text x="482.50" y="156.50" font-size="4.3" fill="#4a4a4a" stroke="#8a8a8a" stroke-width="0.25">10<tspan dx="-0.4" dy="-2.0" font-size="3.8">3</tspan></text>
<text x="494.00" y="156.50" font-size="4.3" fill="#4a4a4a" stroke="#8a8a8a" stroke-width="0.25">10<tspan dx="-0.4" dy="-2.0" font-size="3.8">4</tspan></text>
<text x="504.70" y="156.50" font-size="4.3" fill="#4a4a4a" stroke="#8a8a8a" stroke-width="0.25">10<tspan dx="-0.4" dy="-2.0" font-size="3.8">5</tspan></text>
<g transform="rotate(0 470.00 130.10)"><ellipse cx="474.00" cy="129.80" rx="9.20" ry="5.40" fill="#6a6a6a" opacity="0.517" filter="url(#b1)"/><linearGradient id="g12" gradientUnits="userSpaceOnUse" x1="470.00" y1="0" x2="481.00" y2="0"><stop offset="0" stop-color="#3a3a3a"/><stop offset="1" stop-color="#9a9a9a"/></linearGradient><linearGradient id="g12s" gradientUnits="userSpaceOnUse" x1="470.00" y1="0" x2="482.90" y2="0"><stop offset="0" stop-color="#050505"/><stop offset="0.8" stop-color="#151515"/><stop offset="1" stop-color="#333"/></linearGradient><path d="M470.00,127.20 A3.60,2.90 0 0 0 470.00,133.00 L481.00,130.90 A1.90,1.90 0 0 0 481.00,127.10 Z" fill="url(#g12)" stroke="url(#g12s)" stroke-width="1.9" filter="url(#b04)"/><path d="M469.00,130.30 L478.00,129.30" stroke="#e8e8e8" stroke-width="1.0" stroke-linecap="round" filter="url(#b03)"/></g>
<rect x="479.25" y="121.25" width="14.50" height="16.25" stroke="#222" stroke-width="1" fill="none" />
<text x="486.50" y="117.95" font-size="7.4" font-weight="bold" fill="#111" text-anchor="middle" stroke="#111" stroke-width="0.08">15.6</text>
<text x="7.50" y="201.40" font-size="11.6" font-weight="bold" fill="#000" text-anchor="start"  stroke="#000" stroke-width="0.2">C</text>
<text x="160.80" y="201.40" font-size="11.6" font-weight="bold" fill="#000" text-anchor="start"  stroke="#000" stroke-width="0.2">D</text>
<text x="21.50" y="374.80" font-size="11.6" font-weight="bold" fill="#000" text-anchor="start"  stroke="#000" stroke-width="0.2">E</text>
<text x="318.40" y="201.40" font-size="11.6" font-weight="bold" fill="#000" text-anchor="start"  stroke="#000" stroke-width="0.2">F</text>
<text x="172.40" y="375.20" font-size="11.6" font-weight="bold" fill="#000" text-anchor="start"  stroke="#000" stroke-width="0.2">G</text>
<line x1="53.80" y1="317.20" x2="53.80" y2="228.30" stroke="#111" stroke-width="1.4" />
<line x1="50.60" y1="316.70" x2="53.80" y2="316.70" stroke="#111" stroke-width="1" />
<text x="48.20" y="318.40" font-size="6.1" font-weight="normal" fill="#333" text-anchor="end" stroke="#333" stroke-width="0.18">0</text>
<line x1="50.60" y1="306.01" x2="53.80" y2="306.01" stroke="#111" stroke-width="1" />
<text x="48.20" y="307.71" font-size="6.1" font-weight="normal" fill="#333" text-anchor="end" stroke="#333" stroke-width="0.18">5</text>
<line x1="50.60" y1="295.32" x2="53.80" y2="295.32" stroke="#111" stroke-width="1" />
<text x="48.20" y="297.02" font-size="6.1" font-weight="normal" fill="#333" text-anchor="end" stroke="#333" stroke-width="0.18">10</text>
<line x1="50.60" y1="284.64" x2="53.80" y2="284.64" stroke="#111" stroke-width="1" />
<text x="48.20" y="286.34" font-size="6.1" font-weight="normal" fill="#333" text-anchor="end" stroke="#333" stroke-width="0.18">15</text>
<line x1="50.60" y1="273.95" x2="53.80" y2="273.95" stroke="#111" stroke-width="1" />
<text x="48.20" y="275.65" font-size="6.1" font-weight="normal" fill="#333" text-anchor="end" stroke="#333" stroke-width="0.18">20</text>
<line x1="50.60" y1="263.26" x2="53.80" y2="263.26" stroke="#111" stroke-width="1" />
<text x="48.20" y="264.96" font-size="6.1" font-weight="normal" fill="#333" text-anchor="end" stroke="#333" stroke-width="0.18">25</text>
<line x1="50.60" y1="252.57" x2="53.80" y2="252.57" stroke="#111" stroke-width="1" />
<text x="48.20" y="254.27" font-size="6.1" font-weight="normal" fill="#333" text-anchor="end" stroke="#333" stroke-width="0.18">30</text>
<line x1="50.60" y1="241.89" x2="53.80" y2="241.89" stroke="#111" stroke-width="1" />
<text x="48.20" y="243.59" font-size="6.1" font-weight="normal" fill="#333" text-anchor="end" stroke="#333" stroke-width="0.18">35</text>
<line x1="50.60" y1="231.20" x2="53.80" y2="231.20" stroke="#111" stroke-width="1" />
<text x="48.20" y="232.90" font-size="6.1" font-weight="normal" fill="#333" text-anchor="end" stroke="#333" stroke-width="0.18">40</text>
<line x1="53.10" y1="316.70" x2="144.10" y2="316.70" stroke="#111" stroke-width="1.4" />
<line x1="65.40" y1="316.70" x2="65.40" y2="320.30" stroke="#111" stroke-width="1.2" />
<line x1="87.50" y1="316.70" x2="87.50" y2="320.30" stroke="#111" stroke-width="1.2" />
<line x1="110.00" y1="316.70" x2="110.00" y2="320.30" stroke="#111" stroke-width="1.2" />
<line x1="132.90" y1="316.70" x2="132.90" y2="320.30" stroke="#111" stroke-width="1.2" />
<text x="-21.50" y="0" font-size="6.2" font-weight="bold" fill="#3a3a3a" textLength="21.5" lengthAdjust="spacingAndGlyphs" transform="translate(67.80 326.70) rotate(-43)">UNT WT</text>
<text x="-19.80" y="0" font-size="6.2" font-weight="bold" fill="#3a3a3a" textLength="19.8" lengthAdjust="spacingAndGlyphs" transform="translate(89.90 326.70) rotate(-43)">WT- TLI</text>
<text x="-30.00" y="0" font-size="6.2" font-weight="bold" fill="#3a3a3a" textLength="30.0" lengthAdjust="spacingAndGlyphs" transform="translate(112.40 326.70) rotate(-43)">UNT Batf3<tspan dy="-2" font-size="4">-/-</tspan></text>
<text x="-27.50" y="0" font-size="6.2" font-weight="bold" fill="#3a3a3a" textLength="27.5" lengthAdjust="spacingAndGlyphs" transform="translate(135.30 326.70) rotate(-43)">Batf3<tspan dy="-2" font-size="4">-/-</tspan><tspan dy="2"> -TLI</tspan></text>
<text x="-43.75" y="0" font-size="7.6" fill="#2a2a2a" stroke="#2a2a2a" stroke-width="0.25" textLength="87.5" lengthAdjust="spacingAndGlyphs" transform="translate(26.8 273.3) rotate(-90)">(%) PD1<tspan dy="-2.4" font-size="4.6">+</tspan><tspan dy="2.4"> cells among CD4</tspan><tspan dy="-2.4" font-size="4.6">+</tspan></text>
<text x="-15.40" y="0" font-size="7.6" fill="#2a2a2a" stroke="#2a2a2a" stroke-width="0.25" textLength="30.8" lengthAdjust="spacingAndGlyphs" transform="translate(36.0 273.2) rotate(-90)">Tcon cells</text>
<circle cx="59.80" cy="301.10" r="1.70" fill="#981a36"/><circle cx="65.00" cy="300.00" r="1.70" fill="#981a36"/><circle cx="68.00" cy="300.20" r="1.70" fill="#981a36"/><circle cx="70.60" cy="300.50" r="1.70" fill="#981a36"/><circle cx="61.50" cy="303.20" r="1.70" fill="#981a36"/><circle cx="64.00" cy="303.50" r="1.70" fill="#981a36"/><circle cx="66.50" cy="303.50" r="1.70" fill="#981a36"/><circle cx="69.00" cy="303.20" r="1.70" fill="#981a36"/><circle cx="62.50" cy="305.50" r="1.70" fill="#981a36"/><circle cx="65.50" cy="305.80" r="1.70" fill="#981a36"/><circle cx="68.50" cy="305.50" r="1.70" fill="#981a36"/><circle cx="65.30" cy="310.50" r="1.70" fill="#981a36"/>
<line x1="57.60" y1="303.60" x2="72.50" y2="303.60" stroke="#111" stroke-width="1.2" />
<line x1="65.05" y1="302.60" x2="65.05" y2="304.60" stroke="#111" stroke-width="1.0" />
<line x1="60.58" y1="302.60" x2="69.52" y2="302.60" stroke="#111" stroke-width="1.0" />
<line x1="60.58" y1="304.60" x2="69.52" y2="304.60" stroke="#111" stroke-width="1.0" />
<rect x="86.28" y="238.58" width="3.04" height="3.04" fill="#29447c"/><rect x="86.28" y="244.28" width="3.04" height="3.04" fill="#29447c"/><rect x="86.28" y="250.18" width="3.04" height="3.04" fill="#29447c"/><rect x="79.88" y="255.58" width="3.04" height="3.04" fill="#29447c"/><rect x="83.48" y="255.28" width="3.04" height="3.04" fill="#29447c"/><rect x="86.28" y="253.48" width="3.04" height="3.04" fill="#29447c"/><rect x="89.18" y="255.58" width="3.04" height="3.04" fill="#29447c"/><rect x="92.18" y="255.58" width="3.04" height="3.04" fill="#29447c"/><rect x="84.48" y="260.98" width="3.04" height="3.04" fill="#29447c"/><rect x="87.98" y="260.78" width="3.04" height="3.04" fill="#29447c"/><rect x="79.88" y="263.58" width="3.04" height="3.04" fill="#29447c"/><rect x="84.18" y="266.48" width="3.04" height="3.04" fill="#29447c"/><rect x="87.28" y="266.48" width="3.04" height="3.04" fill="#29447c"/><rect x="89.78" y="266.48" width="3.04" height="3.04" fill="#29447c"/><rect x="92.38" y="266.48" width="3.04" height="3.04" fill="#29447c"/><rect x="88.88" y="272.28" width="3.04" height="3.04" fill="#29447c"/><rect x="83.18" y="274.78" width="3.04" height="3.04" fill="#29447c"/>
<line x1="80.30" y1="260.40" x2="95.10" y2="260.40" stroke="#111" stroke-width="1.2" />
<line x1="87.70" y1="258.20" x2="87.70" y2="262.80" stroke="#111" stroke-width="1.0" />
<line x1="83.26" y1="258.20" x2="92.14" y2="258.20" stroke="#111" stroke-width="1.0" />
<line x1="83.26" y1="262.80" x2="92.14" y2="262.80" stroke="#111" stroke-width="1.0" />
<polygon points="108.30,310.56 111.70,310.56 110.00,307.67" fill="#d4a12a"/><polygon points="103.30,314.66 106.70,314.66 105.00,311.77" fill="#d4a12a"/><polygon points="106.30,314.66 109.70,314.66 108.00,311.77" fill="#d4a12a"/><polygon points="109.30,314.86 112.70,314.86 111.00,311.97" fill="#d4a12a"/><polygon points="112.30,314.66 115.70,314.66 114.00,311.77" fill="#d4a12a"/><polygon points="114.30,314.86 117.70,314.86 116.00,311.97" fill="#d4a12a"/>
<line x1="103.00" y1="313.20" x2="117.00" y2="313.20" stroke="#111" stroke-width="1.2" />
<line x1="110.00" y1="312.60" x2="110.00" y2="313.80" stroke="#111" stroke-width="1.0" />
<line x1="105.80" y1="312.60" x2="114.20" y2="312.60" stroke="#111" stroke-width="1.0" />
<line x1="105.80" y1="313.80" x2="114.20" y2="313.80" stroke="#111" stroke-width="1.0" />
<polygon points="131.20,285.58 135.00,285.58 133.10,288.81" fill="#34484a"/><polygon points="131.20,290.48 135.00,290.48 133.10,293.71" fill="#34484a"/><polygon points="125.00,294.18 128.80,294.18 126.90,297.41" fill="#34484a"/><polygon points="136.80,294.18 140.60,294.18 138.70,297.41" fill="#34484a"/><polygon points="128.60,295.98 132.40,295.98 130.50,299.21" fill="#34484a"/><polygon points="131.60,296.48 135.40,296.48 133.50,299.71" fill="#34484a"/><polygon points="128.20,302.28 132.00,302.28 130.10,305.51" fill="#34484a"/><polygon points="136.40,303.18 140.20,303.18 138.30,306.41" fill="#34484a"/><polygon points="133.80,306.18 137.60,306.18 135.70,309.41" fill="#34484a"/><polygon points="128.60,308.78 132.40,308.78 130.50,312.01" fill="#34484a"/>
<line x1="125.60" y1="300.00" x2="140.60" y2="300.00" stroke="#111" stroke-width="1.2" />
<line x1="133.10" y1="296.80" x2="133.10" y2="303.00" stroke="#111" stroke-width="1.0" />
<line x1="128.60" y1="296.80" x2="137.60" y2="296.80" stroke="#111" stroke-width="1.0" />
<line x1="128.60" y1="303.00" x2="137.60" y2="303.00" stroke="#111" stroke-width="1.0" />
<path d="M89.40,217.80 L89.40,216.00 L133.70,216.00 L133.70,217.80" fill="none" stroke="#111" stroke-width="1.1"/>
<circle cx="107.45" cy="213.40" r="1.25" fill="#111"/>
<circle cx="111.55" cy="213.40" r="1.25" fill="#111"/>
<circle cx="115.65" cy="213.40" r="1.25" fill="#111"/>
<path d="M63.20,225.10 L63.20,223.30 L133.70,223.30 L133.70,225.10" fill="none" stroke="#111" stroke-width="1.1"/>
<text x="98.45" y="222.40" font-size="6.0" font-weight="normal" fill="#222" text-anchor="middle" >NS</text>
<path d="M63.20,231.20 L63.20,229.40 L109.60,229.40 L109.60,231.20" fill="none" stroke="#111" stroke-width="1.1"/>
<circle cx="84.35" cy="226.80" r="1.25" fill="#111"/>
<circle cx="88.45" cy="226.80" r="1.25" fill="#111"/>
<path d="M63.20,236.70 L63.20,234.90 L87.50,234.90 L87.50,236.70" fill="none" stroke="#111" stroke-width="1.1"/>
<circle cx="71.25" cy="232.30" r="1.25" fill="#111"/>
<circle cx="75.35" cy="232.30" r="1.25" fill="#111"/>
<circle cx="79.45" cy="232.30" r="1.25" fill="#111"/>
<path d="M87.50,236.70 L87.50,234.90 L109.60,234.90 L109.60,236.70" fill="none" stroke="#111" stroke-width="1.1"/>
<circle cx="94.45" cy="232.30" r="1.25" fill="#111"/>
<circle cx="98.55" cy="232.30" r="1.25" fill="#111"/>
<circle cx="102.65" cy="232.30" r="1.25" fill="#111"/>
<path d="M109.60,236.70 L109.60,234.90 L133.70,234.90 L133.70,236.70" fill="none" stroke="#111" stroke-width="1.1"/>
<circle cx="119.60" cy="232.30" r="1.25" fill="#111"/>
<circle cx="123.70" cy="232.30" r="1.25" fill="#111"/>
<line x1="207.10" y1="317.20" x2="207.10" y2="228.00" stroke="#111" stroke-width="1.4" />
<line x1="203.90" y1="316.70" x2="207.10" y2="316.70" stroke="#111" stroke-width="1" />
<text x="201.50" y="318.40" font-size="6.1" font-weight="normal" fill="#333" text-anchor="end" stroke="#333" stroke-width="0.18">0</text>
<line x1="203.90" y1="305.94" x2="207.10" y2="305.94" stroke="#111" stroke-width="1" />
<text x="201.50" y="307.64" font-size="6.1" font-weight="normal" fill="#333" text-anchor="end" stroke="#333" stroke-width="0.18">5</text>
<line x1="203.90" y1="295.18" x2="207.10" y2="295.18" stroke="#111" stroke-width="1" />
<text x="201.50" y="296.88" font-size="6.1" font-weight="normal" fill="#333" text-anchor="end" stroke="#333" stroke-width="0.18">10</text>
<line x1="203.90" y1="284.41" x2="207.10" y2="284.41" stroke="#111" stroke-width="1" />
<text x="201.50" y="286.11" font-size="6.1" font-weight="normal" fill="#333" text-anchor="end" stroke="#333" stroke-width="0.18">15</text>
<line x1="203.90" y1="273.65" x2="207.10" y2="273.65" stroke="#111" stroke-width="1" />
<text x="201.50" y="275.35" font-size="6.1" font-weight="normal" fill="#333" text-anchor="end" stroke="#333" stroke-width="0.18">20</text>
<line x1="203.90" y1="262.89" x2="207.10" y2="262.89" stroke="#111" stroke-width="1" />
<text x="201.50" y="264.59" font-size="6.1" font-weight="normal" fill="#333" text-anchor="end" stroke="#333" stroke-width="0.18">25</text>
<line x1="203.90" y1="252.12" x2="207.10" y2="252.12" stroke="#111" stroke-width="1" />
<text x="201.50" y="253.82" font-size="6.1" font-weight="normal" fill="#333" text-anchor="end" stroke="#333" stroke-width="0.18">30</text>
<line x1="203.90" y1="241.36" x2="207.10" y2="241.36" stroke="#111" stroke-width="1" />
<text x="201.50" y="243.06" font-size="6.1" font-weight="normal" fill="#333" text-anchor="end" stroke="#333" stroke-width="0.18">35</text>
<line x1="203.90" y1="230.60" x2="207.10" y2="230.60" stroke="#111" stroke-width="1" />
<text x="201.50" y="232.30" font-size="6.1" font-weight="normal" fill="#333" text-anchor="end" stroke="#333" stroke-width="0.18">40</text>
<line x1="206.40" y1="316.70" x2="301.70" y2="316.70" stroke="#111" stroke-width="1.4" />
<line x1="218.30" y1="316.70" x2="218.30" y2="320.30" stroke="#111" stroke-width="1.2" />
<line x1="242.70" y1="316.70" x2="242.70" y2="320.30" stroke="#111" stroke-width="1.2" />
<line x1="266.70" y1="316.70" x2="266.70" y2="320.30" stroke="#111" stroke-width="1.2" />
<line x1="290.00" y1="316.70" x2="290.00" y2="320.30" stroke="#111" stroke-width="1.2" />
<text x="-21.50" y="0" font-size="6.2" font-weight="bold" fill="#3a3a3a" textLength="21.5" lengthAdjust="spacingAndGlyphs" transform="translate(220.70 326.70) rotate(-43)">UNT WT</text>
<text x="-19.80" y="0" font-size="6.2" font-weight="bold" fill="#3a3a3a" textLength="19.8" lengthAdjust="spacingAndGlyphs" transform="translate(245.10 326.70) rotate(-43)">WT- TLI</text>
<text x="-30.00" y="0" font-size="6.2" font-weight="bold" fill="#3a3a3a" textLength="30.0" lengthAdjust="spacingAndGlyphs" transform="translate(269.10 326.70) rotate(-43)">UNT Batf3<tspan dy="-2" font-size="4">-/-</tspan></text>
<text x="-27.50" y="0" font-size="6.2" font-weight="bold" fill="#3a3a3a" textLength="27.5" lengthAdjust="spacingAndGlyphs" transform="translate(292.40 326.70) rotate(-43)">Batf3<tspan dy="-2" font-size="4">-/-</tspan><tspan dy="2"> -TLI</tspan></text>
<text x="-43.75" y="0" font-size="7.6" fill="#2a2a2a" stroke="#2a2a2a" stroke-width="0.25" textLength="87.5" lengthAdjust="spacingAndGlyphs" transform="translate(180.6 273.3) rotate(-90)">(%) PD1<tspan dy="-2.4" font-size="4.6">+</tspan><tspan dy="2.4"> cells among CD8</tspan><tspan dy="-2.4" font-size="4.6">+</tspan></text>
<text x="-15.40" y="0" font-size="7.6" fill="#2a2a2a" stroke="#2a2a2a" stroke-width="0.25" textLength="30.8" lengthAdjust="spacingAndGlyphs" transform="translate(189.6 273.2) rotate(-90)">Tcon cells</text>
<circle cx="218.70" cy="309.20" r="1.70" fill="#981a36"/><circle cx="212.00" cy="312.50" r="1.70" fill="#981a36"/><circle cx="215.00" cy="312.20" r="1.70" fill="#981a36"/><circle cx="218.00" cy="312.60" r="1.70" fill="#981a36"/><circle cx="221.00" cy="312.20" r="1.70" fill="#981a36"/><circle cx="224.50" cy="312.60" r="1.70" fill="#981a36"/><circle cx="213.50" cy="314.20" r="1.70" fill="#981a36"/><circle cx="217.00" cy="314.40" r="1.70" fill="#981a36"/><circle cx="220.50" cy="314.20" r="1.70" fill="#981a36"/><circle cx="224.00" cy="314.30" r="1.70" fill="#981a36"/>
<line x1="210.50" y1="313.10" x2="225.50" y2="313.10" stroke="#111" stroke-width="1.2" />
<line x1="218.00" y1="312.30" x2="218.00" y2="313.90" stroke="#111" stroke-width="1.0" />
<line x1="213.50" y1="312.30" x2="222.50" y2="312.30" stroke="#111" stroke-width="1.0" />
<line x1="213.50" y1="313.90" x2="222.50" y2="313.90" stroke="#111" stroke-width="1.0" />
<circle cx="239.90" cy="238.30" r="1.67" fill="none" stroke="#29447c" stroke-width="0.8"/><circle cx="245.20" cy="242.40" r="1.67" fill="none" stroke="#29447c" stroke-width="0.8"/><circle cx="237.50" cy="253.60" r="1.67" fill="none" stroke="#29447c" stroke-width="0.8"/><circle cx="247.80" cy="254.20" r="1.67" fill="none" stroke="#29447c" stroke-width="0.8"/><circle cx="242.50" cy="257.70" r="1.67" fill="none" stroke="#29447c" stroke-width="0.8"/><circle cx="237.20" cy="260.90" r="1.67" fill="none" stroke="#29447c" stroke-width="0.8"/><circle cx="241.90" cy="261.30" r="1.67" fill="none" stroke="#29447c" stroke-width="0.8"/><circle cx="247.80" cy="260.90" r="1.67" fill="none" stroke="#29447c" stroke-width="0.8"/><circle cx="240.20" cy="264.50" r="1.67" fill="none" stroke="#29447c" stroke-width="0.8"/><circle cx="243.70" cy="264.80" r="1.67" fill="none" stroke="#29447c" stroke-width="0.8"/><circle cx="242.50" cy="275.50" r="1.67" fill="none" stroke="#29447c" stroke-width="0.8"/><circle cx="239.60" cy="281.00" r="1.67" fill="none" stroke="#29447c" stroke-width="0.8"/><circle cx="245.50" cy="281.00" r="1.67" fill="none" stroke="#29447c" stroke-width="0.8"/><circle cx="242.50" cy="286.90" r="1.67" fill="none" stroke="#29447c" stroke-width="0.8"/>
<line x1="234.90" y1="263.60" x2="250.80" y2="263.60" stroke="#111" stroke-width="1.2" />
<line x1="242.85" y1="258.90" x2="242.85" y2="267.20" stroke="#111" stroke-width="1.0" />
<line x1="238.08" y1="258.90" x2="247.62" y2="258.90" stroke="#111" stroke-width="1.0" />
<line x1="238.08" y1="267.20" x2="247.62" y2="267.20" stroke="#111" stroke-width="1.0" />
<polygon points="266.60,314.72 269.40,314.72 268.00,312.34" fill="#d4a12a"/><polygon points="259.60,316.32 262.40,316.32 261.00,313.94" fill="#d4a12a"/><polygon points="262.60,316.32 265.40,316.32 264.00,313.94" fill="#d4a12a"/><polygon points="265.60,316.32 268.40,316.32 267.00,313.94" fill="#d4a12a"/><polygon points="268.60,316.32 271.40,316.32 270.00,313.94" fill="#d4a12a"/>
<line x1="259.00" y1="315.00" x2="273.00" y2="315.00" stroke="#111" stroke-width="1.2" />
<line x1="266.00" y1="314.60" x2="266.00" y2="315.40" stroke="#111" stroke-width="1.0" />
<line x1="261.80" y1="314.60" x2="270.20" y2="314.60" stroke="#111" stroke-width="1.0" />
<line x1="261.80" y1="315.40" x2="270.20" y2="315.40" stroke="#111" stroke-width="1.0" />
<polygon points="288.30,292.28 292.10,292.28 290.20,295.51" fill="none" stroke="#4a7068" stroke-width="0.8"/><polygon points="283.00,297.08 286.80,297.08 284.90,300.31" fill="none" stroke="#4a7068" stroke-width="0.8"/><polygon points="288.30,297.98 292.10,297.98 290.20,301.21" fill="none" stroke="#4a7068" stroke-width="0.8"/><polygon points="293.60,297.98 297.40,297.98 295.50,301.21" fill="none" stroke="#4a7068" stroke-width="0.8"/><polygon points="283.10,308.78 286.90,308.78 285.00,312.01" fill="none" stroke="#4a7068" stroke-width="0.8"/><polygon points="287.60,309.48 291.40,309.48 289.50,312.71" fill="none" stroke="#4a7068" stroke-width="0.8"/><polygon points="292.10,308.78 295.90,308.78 294.00,312.01" fill="none" stroke="#4a7068" stroke-width="0.8"/><polygon points="285.10,312.08 288.90,312.08 287.00,315.31" fill="none" stroke="#4a7068" stroke-width="0.8"/><polygon points="290.10,312.08 293.90,312.08 292.00,315.31" fill="none" stroke="#4a7068" stroke-width="0.8"/><polygon points="287.60,314.08 291.40,314.08 289.50,317.31" fill="none" stroke="#4a7068" stroke-width="0.8"/>
<line x1="282.50" y1="308.50" x2="297.90" y2="308.50" stroke="#111" stroke-width="1.2" />
<line x1="290.20" y1="305.90" x2="290.20" y2="311.00" stroke="#111" stroke-width="1.0" />
<line x1="285.58" y1="305.90" x2="294.82" y2="305.90" stroke="#111" stroke-width="1.0" />
<line x1="285.58" y1="311.00" x2="294.82" y2="311.00" stroke="#111" stroke-width="1.0" />
<path d="M243.30,216.20 L243.30,214.40 L288.50,214.40 L288.50,216.20" fill="none" stroke="#111" stroke-width="1.1"/>
<circle cx="261.80" cy="211.80" r="1.25" fill="#111"/>
<circle cx="265.90" cy="211.80" r="1.25" fill="#111"/>
<circle cx="270.00" cy="211.80" r="1.25" fill="#111"/>
<path d="M216.30,222.40 L216.30,220.60 L288.50,220.60 L288.50,222.40" fill="none" stroke="#111" stroke-width="1.1"/>
<text x="254.20" y="220.30" font-size="6.0" font-weight="normal" fill="#222" text-anchor="middle" >NS</text>
<path d="M216.30,228.10 L216.30,226.30 L263.50,226.30 L263.50,228.10" fill="none" stroke="#111" stroke-width="1.1"/>
<circle cx="245.20" cy="223.70" r="1.25" fill="#111"/>
<path d="M216.30,234.40 L216.30,232.60 L241.30,232.60 L241.30,234.40" fill="none" stroke="#111" stroke-width="1.1"/>
<circle cx="224.70" cy="230.00" r="1.25" fill="#111"/>
<circle cx="228.80" cy="230.00" r="1.25" fill="#111"/>
<circle cx="232.90" cy="230.00" r="1.25" fill="#111"/>
<path d="M241.30,234.40 L241.30,232.60 L263.50,232.60 L263.50,234.40" fill="none" stroke="#111" stroke-width="1.1"/>
<circle cx="248.30" cy="230.00" r="1.25" fill="#111"/>
<circle cx="252.40" cy="230.00" r="1.25" fill="#111"/>
<circle cx="256.50" cy="230.00" r="1.25" fill="#111"/>
<path d="M263.50,234.40 L263.50,232.60 L289.00,232.60 L289.00,234.40" fill="none" stroke="#111" stroke-width="1.1"/>
<text x="276.25" y="231.00" font-size="6.0" font-weight="normal" fill="#222" text-anchor="middle" >NS</text>
<line x1="65.50" y1="469.10" x2="65.50" y2="380.50" stroke="#111" stroke-width="1.4" />
<line x1="62.30" y1="468.60" x2="65.50" y2="468.60" stroke="#111" stroke-width="1" />
<text x="59.90" y="470.30" font-size="6.1" font-weight="normal" fill="#333" text-anchor="end" stroke="#333" stroke-width="0.18">0</text>
<line x1="62.30" y1="457.89" x2="65.50" y2="457.89" stroke="#111" stroke-width="1" />
<text x="59.90" y="459.59" font-size="6.1" font-weight="normal" fill="#333" text-anchor="end" stroke="#333" stroke-width="0.18">10</text>
<line x1="62.30" y1="447.18" x2="65.50" y2="447.18" stroke="#111" stroke-width="1" />
<text x="59.90" y="448.88" font-size="6.1" font-weight="normal" fill="#333" text-anchor="end" stroke="#333" stroke-width="0.18">20</text>
<line x1="62.30" y1="436.47" x2="65.50" y2="436.47" stroke="#111" stroke-width="1" />
<text x="59.90" y="438.17" font-size="6.1" font-weight="normal" fill="#333" text-anchor="end" stroke="#333" stroke-width="0.18">30</text>
<line x1="62.30" y1="425.76" x2="65.50" y2="425.76" stroke="#111" stroke-width="1" />
<text x="59.90" y="427.46" font-size="6.1" font-weight="normal" fill="#333" text-anchor="end" stroke="#333" stroke-width="0.18">40</text>
<line x1="62.30" y1="415.05" x2="65.50" y2="415.05" stroke="#111" stroke-width="1" />
<text x="59.90" y="416.75" font-size="6.1" font-weight="normal" fill="#333" text-anchor="end" stroke="#333" stroke-width="0.18">50</text>
<line x1="62.30" y1="404.34" x2="65.50" y2="404.34" stroke="#111" stroke-width="1" />
<text x="59.90" y="406.04" font-size="6.1" font-weight="normal" fill="#333" text-anchor="end" stroke="#333" stroke-width="0.18">60</text>
<line x1="62.30" y1="393.63" x2="65.50" y2="393.63" stroke="#111" stroke-width="1" />
<text x="59.90" y="395.33" font-size="6.1" font-weight="normal" fill="#333" text-anchor="end" stroke="#333" stroke-width="0.18">70</text>
<line x1="62.30" y1="382.92" x2="65.50" y2="382.92" stroke="#111" stroke-width="1" />
<text x="59.90" y="384.62" font-size="6.1" font-weight="normal" fill="#333" text-anchor="end" stroke="#333" stroke-width="0.18">80</text>
<line x1="64.80" y1="468.60" x2="157.00" y2="468.60" stroke="#111" stroke-width="1.4" />
<line x1="76.60" y1="468.60" x2="76.60" y2="472.20" stroke="#111" stroke-width="1.2" />
<line x1="99.60" y1="468.60" x2="99.60" y2="472.20" stroke="#111" stroke-width="1.2" />
<line x1="122.40" y1="468.60" x2="122.40" y2="472.20" stroke="#111" stroke-width="1.2" />
<line x1="145.00" y1="468.60" x2="145.00" y2="472.20" stroke="#111" stroke-width="1.2" />
<text x="-21.50" y="0" font-size="6.2" font-weight="bold" fill="#3a3a3a" textLength="21.5" lengthAdjust="spacingAndGlyphs" transform="translate(79.00 478.60) rotate(-43)">UNT WT</text>
<text x="-19.80" y="0" font-size="6.2" font-weight="bold" fill="#3a3a3a" textLength="19.8" lengthAdjust="spacingAndGlyphs" transform="translate(102.00 478.60) rotate(-43)">WT- TLI</text>
<text x="-30.00" y="0" font-size="6.2" font-weight="bold" fill="#3a3a3a" textLength="30.0" lengthAdjust="spacingAndGlyphs" transform="translate(124.80 478.60) rotate(-43)">UNT Batf3<tspan dy="-2" font-size="4">-/-</tspan></text>
<text x="-27.50" y="0" font-size="6.2" font-weight="bold" fill="#3a3a3a" textLength="27.5" lengthAdjust="spacingAndGlyphs" transform="translate(147.40 478.60) rotate(-43)">Batf3<tspan dy="-2" font-size="4">-/-</tspan><tspan dy="2"> -TLI</tspan></text>
<text x="-44.00" y="0" font-size="7.6" fill="#2a2a2a" stroke="#2a2a2a" stroke-width="0.25" textLength="88.0" lengthAdjust="spacingAndGlyphs" transform="translate(38.6 423.5) rotate(-90)">(%) PD1<tspan dy="-2.4" font-size="4.6">+</tspan><tspan dy="2.4"> cells among CD4</tspan><tspan dy="-2.4" font-size="4.6">+</tspan></text>
<text x="-20.75" y="0" font-size="7.6" fill="#2a2a2a" stroke="#2a2a2a" stroke-width="0.25" textLength="41.5" lengthAdjust="spacingAndGlyphs" transform="translate(47.3 421.4) rotate(-90)">CD25<tspan dy="-2.4" font-size="4.6">+</tspan><tspan dy="2.4"> cells</tspan></text>
<circle cx="79.40" cy="450.90" r="1.87" fill="#9a1636"/><circle cx="74.20" cy="454.20" r="1.87" fill="#9a1636"/><circle cx="81.90" cy="455.90" r="1.87" fill="#9a1636"/><circle cx="71.70" cy="458.60" r="1.87" fill="#9a1636"/><circle cx="74.20" cy="458.40" r="1.87" fill="#9a1636"/><circle cx="78.90" cy="458.60" r="1.87" fill="#9a1636"/><circle cx="75.80" cy="460.20" r="1.87" fill="#9a1636"/><circle cx="77.90" cy="460.60" r="1.87" fill="#9a1636"/><circle cx="73.00" cy="461.00" r="1.87" fill="#9a1636"/><circle cx="72.50" cy="464.90" r="1.87" fill="#9a1636"/><circle cx="74.90" cy="465.50" r="1.87" fill="#9a1636"/><circle cx="77.30" cy="465.50" r="1.87" fill="#9a1636"/><circle cx="79.60" cy="465.00" r="1.87" fill="#9a1636"/><circle cx="81.60" cy="465.20" r="1.87" fill="#9a1636"/>
<line x1="69.20" y1="460.40" x2="84.90" y2="460.40" stroke="#111" stroke-width="1.2" />
<line x1="77.05" y1="459.40" x2="77.05" y2="461.40" stroke="#111" stroke-width="1.0" />
<line x1="72.34" y1="459.40" x2="81.76" y2="459.40" stroke="#111" stroke-width="1.0" />
<line x1="72.34" y1="461.40" x2="81.76" y2="461.40" stroke="#111" stroke-width="1.0" />
<circle cx="99.40" cy="405.10" r="1.74" fill="none" stroke="#29447c" stroke-width="0.8"/><circle cx="93.50" cy="409.40" r="1.74" fill="none" stroke="#29447c" stroke-width="0.8"/><circle cx="97.40" cy="412.20" r="1.74" fill="none" stroke="#29447c" stroke-width="0.8"/><circle cx="101.40" cy="413.00" r="1.74" fill="none" stroke="#29447c" stroke-width="0.8"/><circle cx="105.30" cy="411.80" r="1.74" fill="none" stroke="#29447c" stroke-width="0.8"/><circle cx="93.90" cy="418.90" r="1.74" fill="none" stroke="#29447c" stroke-width="0.8"/><circle cx="104.50" cy="418.50" r="1.74" fill="none" stroke="#29447c" stroke-width="0.8"/><circle cx="94.30" cy="422.80" r="1.74" fill="none" stroke="#29447c" stroke-width="0.8"/><circle cx="97.00" cy="424.00" r="1.74" fill="none" stroke="#29447c" stroke-width="0.8"/><circle cx="100.20" cy="424.80" r="1.74" fill="none" stroke="#29447c" stroke-width="0.8"/><circle cx="102.50" cy="425.20" r="1.74" fill="none" stroke="#29447c" stroke-width="0.8"/><circle cx="104.50" cy="423.20" r="1.74" fill="none" stroke="#29447c" stroke-width="0.8"/><circle cx="102.10" cy="429.90" r="1.74" fill="none" stroke="#29447c" stroke-width="0.8"/><circle cx="96.60" cy="433.10" r="1.74" fill="none" stroke="#29447c" stroke-width="0.8"/>
<line x1="91.90" y1="419.30" x2="107.30" y2="419.30" stroke="#111" stroke-width="1.2" />
<line x1="99.60" y1="417.20" x2="99.60" y2="421.60" stroke="#111" stroke-width="1.0" />
<line x1="94.98" y1="417.20" x2="104.22" y2="417.20" stroke="#111" stroke-width="1.0" />
<line x1="94.98" y1="421.60" x2="104.22" y2="421.60" stroke="#111" stroke-width="1.0" />
<polygon points="116.60,465.72 119.40,465.72 118.00,463.34" fill="#d4a12a"/><polygon points="119.60,465.72 122.40,465.72 121.00,463.34" fill="#d4a12a"/><polygon points="122.60,465.72 125.40,465.72 124.00,463.34" fill="#d4a12a"/><polygon points="125.60,465.72 128.40,465.72 127.00,463.34" fill="#d4a12a"/><polygon points="120.10,464.62 122.90,464.62 121.50,462.24" fill="#d4a12a"/>
<line x1="114.80" y1="464.60" x2="128.40" y2="464.60" stroke="#111" stroke-width="1.2" />
<line x1="121.60" y1="464.00" x2="121.60" y2="465.20" stroke="#111" stroke-width="1.0" />
<line x1="117.52" y1="464.00" x2="125.68" y2="464.00" stroke="#111" stroke-width="1.0" />
<line x1="117.52" y1="465.20" x2="125.68" y2="465.20" stroke="#111" stroke-width="1.0" />
<polygon points="144.10,444.12 146.38,446.40 144.10,448.68 141.82,446.40" fill="none" stroke="#34484a" stroke-width="0.8"/><polygon points="139.20,448.12 141.48,450.40 139.20,452.68 136.92,450.40" fill="none" stroke="#34484a" stroke-width="0.8"/><polygon points="149.20,449.92 151.48,452.20 149.20,454.48 146.92,452.20" fill="none" stroke="#34484a" stroke-width="0.8"/><polygon points="144.70,452.72 146.98,455.00 144.70,457.28 142.42,455.00" fill="none" stroke="#34484a" stroke-width="0.8"/><polygon points="138.30,455.72 140.58,458.00 138.30,460.28 136.02,458.00" fill="none" stroke="#34484a" stroke-width="0.8"/><polygon points="148.30,455.42 150.58,457.70 148.30,459.98 146.02,457.70" fill="none" stroke="#34484a" stroke-width="0.8"/><polygon points="140.10,461.72 142.38,464.00 140.10,466.28 137.82,464.00" fill="none" stroke="#34484a" stroke-width="0.8"/><polygon points="146.50,460.82 148.78,463.10 146.50,465.38 144.22,463.10" fill="none" stroke="#34484a" stroke-width="0.8"/><polygon points="147.40,465.12 149.68,467.40 147.40,469.68 145.12,467.40" fill="none" stroke="#34484a" stroke-width="0.8"/><polygon points="143.80,465.52 146.08,467.80 143.80,470.08 141.52,467.80" fill="none" stroke="#34484a" stroke-width="0.8"/>
<line x1="135.60" y1="459.10" x2="151.90" y2="459.10" stroke="#111" stroke-width="1.2" />
<line x1="143.75" y1="456.80" x2="143.75" y2="461.40" stroke="#111" stroke-width="1.0" />
<line x1="138.86" y1="456.80" x2="148.64" y2="456.80" stroke="#111" stroke-width="1.0" />
<line x1="138.86" y1="461.40" x2="148.64" y2="461.40" stroke="#111" stroke-width="1.0" />
<path d="M99.40,376.20 L99.40,374.40 L143.70,374.40 L143.70,376.20" fill="none" stroke="#111" stroke-width="1.1"/>
<circle cx="117.45" cy="371.80" r="1.25" fill="#111"/>
<circle cx="121.55" cy="371.80" r="1.25" fill="#111"/>
<circle cx="125.65" cy="371.80" r="1.25" fill="#111"/>
<path d="M76.90,384.30 L76.90,382.50 L143.70,382.50 L143.70,384.30" fill="none" stroke="#111" stroke-width="1.1"/>
<text x="111.50" y="381.40" font-size="6.0" font-weight="normal" fill="#222" text-anchor="middle" >NS</text>
<path d="M76.90,391.60 L76.90,389.80 L121.50,389.80 L121.50,391.60" fill="none" stroke="#111" stroke-width="1.1"/>
<text x="99.20" y="388.50" font-size="6.0" font-weight="normal" fill="#222" text-anchor="middle" >NS</text>
<path d="M76.90,397.40 L76.90,395.60 L99.60,395.60 L99.60,397.40" fill="none" stroke="#111" stroke-width="1.1"/>
<circle cx="84.15" cy="393.00" r="1.25" fill="#111"/>
<circle cx="88.25" cy="393.00" r="1.25" fill="#111"/>
<circle cx="92.35" cy="393.00" r="1.25" fill="#111"/>
<path d="M99.60,397.40 L99.60,395.60 L121.60,395.60 L121.60,397.40" fill="none" stroke="#111" stroke-width="1.1"/>
<circle cx="106.50" cy="393.00" r="1.25" fill="#111"/>
<circle cx="110.60" cy="393.00" r="1.25" fill="#111"/>
<circle cx="114.70" cy="393.00" r="1.25" fill="#111"/>
<path d="M121.60,397.40 L121.60,395.60 L143.70,395.60 L143.70,397.40" fill="none" stroke="#111" stroke-width="1.1"/>
<text x="132.65" y="394.00" font-size="6.0" font-weight="normal" fill="#222" text-anchor="middle" >NS</text>
<line x1="353.60" y1="317.70" x2="353.60" y2="204.60" stroke="#111" stroke-width="1.4" />
<line x1="350.40" y1="317.10" x2="353.60" y2="317.10" stroke="#111" stroke-width="1" />
<text x="347.20" y="319.10" font-size="5.8" font-weight="normal" fill="#333" text-anchor="end" stroke="#333" stroke-width="0.18">0</text>
<line x1="350.40" y1="306.10" x2="353.60" y2="306.10" stroke="#111" stroke-width="1" />
<text x="347.20" y="308.10" font-size="5.8" font-weight="normal" fill="#333" text-anchor="end" stroke="#333" stroke-width="0.18">10</text>
<line x1="350.40" y1="295.10" x2="353.60" y2="295.10" stroke="#111" stroke-width="1" />
<text x="347.20" y="297.10" font-size="5.8" font-weight="normal" fill="#333" text-anchor="end" stroke="#333" stroke-width="0.18">20</text>
<line x1="350.40" y1="284.10" x2="353.60" y2="284.10" stroke="#111" stroke-width="1" />
<text x="347.20" y="286.10" font-size="5.8" font-weight="normal" fill="#333" text-anchor="end" stroke="#333" stroke-width="0.18">30</text>
<line x1="350.40" y1="273.10" x2="353.60" y2="273.10" stroke="#111" stroke-width="1" />
<text x="347.20" y="275.10" font-size="5.8" font-weight="normal" fill="#333" text-anchor="end" stroke="#333" stroke-width="0.18">40</text>
<line x1="350.40" y1="262.10" x2="353.60" y2="262.10" stroke="#111" stroke-width="1" />
<text x="347.20" y="264.10" font-size="5.8" font-weight="normal" fill="#333" text-anchor="end" stroke="#333" stroke-width="0.18">50</text>
<line x1="350.40" y1="251.10" x2="353.60" y2="251.10" stroke="#111" stroke-width="1" />
<text x="347.20" y="253.10" font-size="5.8" font-weight="normal" fill="#333" text-anchor="end" stroke="#333" stroke-width="0.18">60</text>
<line x1="350.40" y1="240.10" x2="353.60" y2="240.10" stroke="#111" stroke-width="1" />
<text x="347.20" y="242.10" font-size="5.8" font-weight="normal" fill="#333" text-anchor="end" stroke="#333" stroke-width="0.18">70</text>
<line x1="350.40" y1="229.10" x2="353.60" y2="229.10" stroke="#111" stroke-width="1" />
<text x="347.20" y="231.10" font-size="5.8" font-weight="normal" fill="#333" text-anchor="end" stroke="#333" stroke-width="0.18">80</text>
<line x1="350.40" y1="218.10" x2="353.60" y2="218.10" stroke="#111" stroke-width="1" />
<text x="347.20" y="220.10" font-size="5.8" font-weight="normal" fill="#333" text-anchor="end" stroke="#333" stroke-width="0.18">90</text>
<line x1="350.40" y1="207.10" x2="353.60" y2="207.10" stroke="#111" stroke-width="1" />
<text x="347.20" y="209.10" font-size="5.8" font-weight="normal" fill="#333" text-anchor="end" stroke="#333" stroke-width="0.18">100</text>
<line x1="352.90" y1="317.10" x2="478.80" y2="317.10" stroke="#111" stroke-width="1.4" />
<line x1="353.60" y1="317.10" x2="353.60" y2="320.30" stroke="#111" stroke-width="1" />
<text x="353.60" y="328.60" font-size="6.0" font-weight="normal" fill="#333" text-anchor="middle" stroke="#333" stroke-width="0.18">0</text>
<line x1="365.74" y1="317.10" x2="365.74" y2="320.30" stroke="#111" stroke-width="1" />
<text x="365.74" y="328.60" font-size="6.0" font-weight="normal" fill="#333" text-anchor="middle" stroke="#333" stroke-width="0.18">2</text>
<line x1="377.88" y1="317.10" x2="377.88" y2="320.30" stroke="#111" stroke-width="1" />
<text x="377.88" y="328.60" font-size="6.0" font-weight="normal" fill="#333" text-anchor="middle" stroke="#333" stroke-width="0.18">4</text>
<line x1="390.02" y1="317.10" x2="390.02" y2="320.30" stroke="#111" stroke-width="1" />
<text x="390.02" y="328.60" font-size="6.0" font-weight="normal" fill="#333" text-anchor="middle" stroke="#333" stroke-width="0.18">6</text>
<line x1="402.16" y1="317.10" x2="402.16" y2="320.30" stroke="#111" stroke-width="1" />
<text x="402.16" y="328.60" font-size="6.0" font-weight="normal" fill="#333" text-anchor="middle" stroke="#333" stroke-width="0.18">8</text>
<line x1="414.30" y1="317.10" x2="414.30" y2="320.30" stroke="#111" stroke-width="1" />
<text x="414.30" y="328.60" font-size="6.0" font-weight="normal" fill="#333" text-anchor="middle" stroke="#333" stroke-width="0.18">10</text>
<line x1="426.44" y1="317.10" x2="426.44" y2="320.30" stroke="#111" stroke-width="1" />
<text x="426.44" y="328.60" font-size="6.0" font-weight="normal" fill="#333" text-anchor="middle" stroke="#333" stroke-width="0.18">12</text>
<line x1="438.58" y1="317.10" x2="438.58" y2="320.30" stroke="#111" stroke-width="1" />
<text x="438.58" y="328.60" font-size="6.0" font-weight="normal" fill="#333" text-anchor="middle" stroke="#333" stroke-width="0.18">14</text>
<line x1="450.72" y1="317.10" x2="450.72" y2="320.30" stroke="#111" stroke-width="1" />
<text x="450.72" y="328.60" font-size="6.0" font-weight="normal" fill="#333" text-anchor="middle" stroke="#333" stroke-width="0.18">16</text>
<line x1="462.86" y1="317.10" x2="462.86" y2="320.30" stroke="#111" stroke-width="1" />
<text x="462.86" y="328.60" font-size="6.0" font-weight="normal" fill="#333" text-anchor="middle" stroke="#333" stroke-width="0.18">18</text>
<line x1="475.00" y1="317.10" x2="475.00" y2="320.30" stroke="#111" stroke-width="1" />
<text x="475.00" y="328.60" font-size="6.0" font-weight="normal" fill="#333" text-anchor="middle" stroke="#333" stroke-width="0.18">20</text>
<text x="382.65" y="340.10" font-size="9.5" fill="#1a1a1a" stroke="#1a1a1a" stroke-width="0.2" textLength="68.5" lengthAdjust="spacingAndGlyphs">Days after start of TLI</text>
<text x="0" y="0" font-size="8.4" fill="#1a1a1a" stroke="#1a1a1a" stroke-width="0.25" textLength="110.5" lengthAdjust="spacingAndGlyphs" transform="translate(335.90 316.85) rotate(-90)">(%) Markers among CD8<tspan dy="-2.6" font-size="5">+</tspan><tspan dy="2.6">DCS cells</tspan></text>
<polyline points="353.60,246.70 377.88,209.30 396.09,210.40 414.30,214.25 475.00,215.68" fill="none" stroke="#2b4d7c" stroke-width="1.35" stroke-linejoin="round"/>
<path d="M353.60,244.50 L353.60,248.90 M351.60,244.50 L355.60,244.50 M351.60,248.90 L355.60,248.90" stroke="#2b4d7c" stroke-width="0.9" fill="none"/>
<rect x="351.84" y="244.94" width="3.52" height="3.52" fill="#2b4d7c"/>
<rect x="376.12" y="207.54" width="3.52" height="3.52" fill="#2b4d7c"/>
<rect x="394.33" y="208.64" width="3.52" height="3.52" fill="#2b4d7c"/>
<rect x="412.54" y="212.49" width="3.52" height="3.52" fill="#2b4d7c"/>
<rect x="473.24" y="213.92" width="3.52" height="3.52" fill="#2b4d7c"/>
<polyline points="353.60,274.20 377.88,217.00 396.09,212.60 414.30,213.70 475.00,223.60" fill="none" stroke="#3a2862" stroke-width="1.35" stroke-linejoin="round"/>
<path d="M353.60,272.55 L353.60,275.85 M351.60,272.55 L355.60,272.55 M351.60,275.85 L355.60,275.85" stroke="#3a2862" stroke-width="0.9" fill="none"/>
<circle cx="353.60" cy="274.20" r="1.85" fill="#3a2862"/>
<circle cx="377.88" cy="217.00" r="1.85" fill="#3a2862"/>
<circle cx="396.09" cy="212.60" r="1.85" fill="#3a2862"/>
<circle cx="414.30" cy="213.70" r="1.85" fill="#3a2862"/>
<path d="M475.00,220.85 L475.00,226.35 M473.00,220.85 L477.00,220.85 M473.00,226.35 L477.00,226.35" stroke="#3a2862" stroke-width="0.9" fill="none"/>
<circle cx="475.00" cy="223.60" r="1.85" fill="#3a2862"/>
<polyline points="353.60,297.30 377.88,220.30 396.09,214.80 414.30,214.80 475.00,232.18" fill="none" stroke="#9c1a3a" stroke-width="1.35" stroke-linejoin="round"/>
<path d="M353.60,294.00 L353.60,300.60 M351.60,294.00 L355.60,294.00 M351.60,300.60 L355.60,300.60" stroke="#9c1a3a" stroke-width="0.9" fill="none"/>
<polygon points="353.60,295.19 355.71,297.30 353.60,299.41 351.49,297.30" fill="#9c1a3a"/>
<path d="M377.88,219.20 L377.88,221.40 M375.88,219.20 L379.88,219.20 M375.88,221.40 L379.88,221.40" stroke="#9c1a3a" stroke-width="0.9" fill="none"/>
<polygon points="377.88,218.19 379.99,220.30 377.88,222.41 375.77,220.30" fill="#9c1a3a"/>
<path d="M396.09,213.70 L396.09,215.90 M394.09,213.70 L398.09,213.70 M394.09,215.90 L398.09,215.90" stroke="#9c1a3a" stroke-width="0.9" fill="none"/>
<polygon points="396.09,212.69 398.20,214.80 396.09,216.91 393.98,214.80" fill="#9c1a3a"/>
<polygon points="414.30,212.69 416.41,214.80 414.30,216.91 412.19,214.80" fill="#9c1a3a"/>
<path d="M475.00,229.43 L475.00,234.93 M473.00,229.43 L477.00,229.43 M473.00,234.93 L477.00,234.93" stroke="#9c1a3a" stroke-width="0.9" fill="none"/>
<polygon points="475.00,230.07 477.11,232.18 475.00,234.29 472.89,232.18" fill="#9c1a3a"/>
<polyline points="353.60,283.55 377.88,229.65 396.09,228.55 414.30,222.50 475.00,230.75" fill="none" stroke="#78b048" stroke-width="1.35" stroke-linejoin="round"/>
<path d="M353.60,280.25 L353.60,286.85 M351.60,280.25 L355.60,280.25 M351.60,286.85 L355.60,286.85" stroke="#78b048" stroke-width="0.9" fill="none"/>
<path d="M351.49,283.55 L355.71,283.55 M353.60,281.44 L353.60,285.66 M352.12,282.07 L355.08,285.03 M352.12,285.03 L355.08,282.07" stroke="#78b048" stroke-width="1.1"/>
<path d="M377.88,226.35 L377.88,232.95 M375.88,226.35 L379.88,226.35 M375.88,232.95 L379.88,232.95" stroke="#78b048" stroke-width="0.9" fill="none"/>
<path d="M375.77,229.65 L379.99,229.65 M377.88,227.54 L377.88,231.76 M376.40,228.17 L379.36,231.13 M376.40,231.13 L379.36,228.17" stroke="#78b048" stroke-width="1.1"/>
<path d="M396.09,225.25 L396.09,231.85 M394.09,225.25 L398.09,225.25 M394.09,231.85 L398.09,231.85" stroke="#78b048" stroke-width="0.9" fill="none"/>
<path d="M393.98,228.55 L398.20,228.55 M396.09,226.44 L396.09,230.66 M394.61,227.07 L397.57,230.03 M394.61,230.03 L397.57,227.07" stroke="#78b048" stroke-width="1.1"/>
<path d="M414.30,219.75 L414.30,225.25 M412.30,219.75 L416.30,219.75 M412.30,225.25 L416.30,225.25" stroke="#78b048" stroke-width="0.9" fill="none"/>
<path d="M412.19,222.50 L416.41,222.50 M414.30,220.39 L414.30,224.61 M412.82,221.02 L415.78,223.98 M412.82,223.98 L415.78,221.02" stroke="#78b048" stroke-width="1.1"/>
<path d="M475.00,229.10 L475.00,232.40 M473.00,229.10 L477.00,229.10 M473.00,232.40 L477.00,232.40" stroke="#78b048" stroke-width="0.9" fill="none"/>
<path d="M472.89,230.75 L477.11,230.75 M475.00,228.64 L475.00,232.86 M473.52,229.27 L476.48,232.23 M473.52,232.23 L476.48,229.27" stroke="#78b048" stroke-width="1.1"/>
<line x1="380.30" y1="277.00" x2="388.70" y2="277.00" stroke="#3a2862" stroke-width="1.6" />
<circle cx="384.50" cy="277.00" r="2.42" fill="#3a2862"/>
<text x="394.8" y="278.00" font-size="5.9" fill="#111" stroke="#111" stroke-width="0.18" textLength="76.5" lengthAdjust="spacingAndGlyphs"><tspan>Treml4</tspan><tspan dy="-2.6" font-size="3.9">+</tspan><tspan dy="2.6"> cells among CD8</tspan><tspan dy="-2.6" font-size="3.9">+</tspan><tspan dy="2.6">DCs</tspan></text>
<line x1="380.30" y1="287.60" x2="388.70" y2="287.60" stroke="#2b4d7c" stroke-width="1.6" />
<rect x="382.20" y="285.30" width="4.60" height="4.60" fill="#2b4d7c"/>
<text x="394.8" y="288.40" font-size="5.9" fill="#111" stroke="#111" stroke-width="0.18" textLength="80.5" lengthAdjust="spacingAndGlyphs"><tspan>DEC205</tspan><tspan dy="-2.6" font-size="3.9">+</tspan><tspan dy="2.6"> cells among CD8</tspan><tspan dy="-2.6" font-size="3.9">+</tspan><tspan dy="2.6">DCs</tspan></text>
<line x1="380.30" y1="298.80" x2="388.70" y2="298.80" stroke="#9c1a3a" stroke-width="1.6" />
<polygon points="384.50,296.04 387.26,298.80 384.50,301.56 381.74,298.80" fill="#9c1a3a"/>
<text x="394.8" y="300.50" font-size="5.9" fill="#111" stroke="#111" stroke-width="0.18" textLength="72.2" lengthAdjust="spacingAndGlyphs"><tspan>Sirpa</tspan><tspan dy="-2.6" font-size="3.9">+</tspan><tspan dy="2.6"> cells among CD8</tspan><tspan dy="-2.6" font-size="3.9">+</tspan><tspan dy="2.6">DCs</tspan></text>
<line x1="380.30" y1="310.30" x2="388.70" y2="310.30" stroke="#78b048" stroke-width="1.6" />
<path d="M381.74,310.30 L387.26,310.30 M384.50,307.54 L384.50,313.06 M382.57,308.37 L386.43,312.23 M382.57,312.23 L386.43,308.37" stroke="#78b048" stroke-width="1.1"/>
<text x="394.8" y="311.30" font-size="5.9" fill="#111" stroke="#111" stroke-width="0.18" textLength="73.9" lengthAdjust="spacingAndGlyphs"><tspan>Tim-4</tspan><tspan dy="-2.6" font-size="3.9">+</tspan><tspan dy="2.6"> cells among CD8</tspan><tspan dy="-2.6" font-size="3.9">+</tspan><tspan dy="2.6">DCs</tspan></text>
<line x1="206.60" y1="472.60" x2="206.60" y2="372.00" stroke="#111" stroke-width="1.4" />
<line x1="203.40" y1="472.00" x2="206.60" y2="472.00" stroke="#111" stroke-width="1" />
<text x="200.20" y="474.00" font-size="5.8" font-weight="normal" fill="#333" text-anchor="end" stroke="#333" stroke-width="0.18">0</text>
<line x1="203.40" y1="461.18" x2="206.60" y2="461.18" stroke="#111" stroke-width="1" />
<text x="200.20" y="463.18" font-size="5.8" font-weight="normal" fill="#333" text-anchor="end" stroke="#333" stroke-width="0.18">10</text>
<line x1="203.40" y1="450.36" x2="206.60" y2="450.36" stroke="#111" stroke-width="1" />
<text x="200.20" y="452.36" font-size="5.8" font-weight="normal" fill="#333" text-anchor="end" stroke="#333" stroke-width="0.18">20</text>
<line x1="203.40" y1="439.53" x2="206.60" y2="439.53" stroke="#111" stroke-width="1" />
<text x="200.20" y="441.53" font-size="5.8" font-weight="normal" fill="#333" text-anchor="end" stroke="#333" stroke-width="0.18">30</text>
<line x1="203.40" y1="428.71" x2="206.60" y2="428.71" stroke="#111" stroke-width="1" />
<text x="200.20" y="430.71" font-size="5.8" font-weight="normal" fill="#333" text-anchor="end" stroke="#333" stroke-width="0.18">40</text>
<line x1="203.40" y1="417.89" x2="206.60" y2="417.89" stroke="#111" stroke-width="1" />
<text x="200.20" y="419.89" font-size="5.8" font-weight="normal" fill="#333" text-anchor="end" stroke="#333" stroke-width="0.18">50</text>
<line x1="203.40" y1="407.07" x2="206.60" y2="407.07" stroke="#111" stroke-width="1" />
<text x="200.20" y="409.07" font-size="5.8" font-weight="normal" fill="#333" text-anchor="end" stroke="#333" stroke-width="0.18">60</text>
<line x1="203.40" y1="396.25" x2="206.60" y2="396.25" stroke="#111" stroke-width="1" />
<text x="200.20" y="398.25" font-size="5.8" font-weight="normal" fill="#333" text-anchor="end" stroke="#333" stroke-width="0.18">70</text>
<line x1="203.40" y1="385.42" x2="206.60" y2="385.42" stroke="#111" stroke-width="1" />
<text x="200.20" y="387.42" font-size="5.8" font-weight="normal" fill="#333" text-anchor="end" stroke="#333" stroke-width="0.18">80</text>
<line x1="203.40" y1="374.60" x2="206.60" y2="374.60" stroke="#111" stroke-width="1" />
<text x="200.20" y="376.60" font-size="5.8" font-weight="normal" fill="#333" text-anchor="end" stroke="#333" stroke-width="0.18">90</text>
<line x1="205.90" y1="472.00" x2="331.50" y2="472.00" stroke="#111" stroke-width="1.4" />
<line x1="206.60" y1="472.00" x2="206.60" y2="475.20" stroke="#111" stroke-width="1" />
<text x="206.60" y="482.60" font-size="6.0" font-weight="normal" fill="#333" text-anchor="middle" stroke="#333" stroke-width="0.18">0</text>
<line x1="218.74" y1="472.00" x2="218.74" y2="475.20" stroke="#111" stroke-width="1" />
<text x="218.74" y="482.60" font-size="6.0" font-weight="normal" fill="#333" text-anchor="middle" stroke="#333" stroke-width="0.18">2</text>
<line x1="230.88" y1="472.00" x2="230.88" y2="475.20" stroke="#111" stroke-width="1" />
<text x="230.88" y="482.60" font-size="6.0" font-weight="normal" fill="#333" text-anchor="middle" stroke="#333" stroke-width="0.18">4</text>
<line x1="243.02" y1="472.00" x2="243.02" y2="475.20" stroke="#111" stroke-width="1" />
<text x="243.02" y="482.60" font-size="6.0" font-weight="normal" fill="#333" text-anchor="middle" stroke="#333" stroke-width="0.18">6</text>
<line x1="255.16" y1="472.00" x2="255.16" y2="475.20" stroke="#111" stroke-width="1" />
<text x="255.16" y="482.60" font-size="6.0" font-weight="normal" fill="#333" text-anchor="middle" stroke="#333" stroke-width="0.18">8</text>
<line x1="267.30" y1="472.00" x2="267.30" y2="475.20" stroke="#111" stroke-width="1" />
<text x="267.30" y="482.60" font-size="6.0" font-weight="normal" fill="#333" text-anchor="middle" stroke="#333" stroke-width="0.18">10</text>
<line x1="279.44" y1="472.00" x2="279.44" y2="475.20" stroke="#111" stroke-width="1" />
<text x="279.44" y="482.60" font-size="6.0" font-weight="normal" fill="#333" text-anchor="middle" stroke="#333" stroke-width="0.18">12</text>
<line x1="291.58" y1="472.00" x2="291.58" y2="475.20" stroke="#111" stroke-width="1" />
<text x="291.58" y="482.60" font-size="6.0" font-weight="normal" fill="#333" text-anchor="middle" stroke="#333" stroke-width="0.18">14</text>
<line x1="303.72" y1="472.00" x2="303.72" y2="475.20" stroke="#111" stroke-width="1" />
<text x="303.72" y="482.60" font-size="6.0" font-weight="normal" fill="#333" text-anchor="middle" stroke="#333" stroke-width="0.18">16</text>
<line x1="315.86" y1="472.00" x2="315.86" y2="475.20" stroke="#111" stroke-width="1" />
<text x="315.86" y="482.60" font-size="6.0" font-weight="normal" fill="#333" text-anchor="middle" stroke="#333" stroke-width="0.18">18</text>
<line x1="328.00" y1="472.00" x2="328.00" y2="475.20" stroke="#111" stroke-width="1" />
<text x="328.00" y="482.60" font-size="6.0" font-weight="normal" fill="#333" text-anchor="middle" stroke="#333" stroke-width="0.18">20</text>
<text x="235.40" y="494.50" font-size="9.5" fill="#1a1a1a" stroke="#1a1a1a" stroke-width="0.2" textLength="69.2" lengthAdjust="spacingAndGlyphs">Days after start of TLI</text>
<text x="0" y="0" font-size="8.4" fill="#1a1a1a" stroke="#1a1a1a" stroke-width="0.25" textLength="83.5" lengthAdjust="spacingAndGlyphs" transform="translate(189.00 469.65) rotate(-90)">(%) Markers among T cells</text>
<polyline points="206.60,461.76 230.88,460.69 249.09,448.91 267.30,415.92 328.00,402.53" fill="none" stroke="#2b4d7c" stroke-width="1.35" stroke-linejoin="round"/>
<rect x="204.84" y="460.00" width="3.52" height="3.52" fill="#2b4d7c"/>
<rect x="229.12" y="458.93" width="3.52" height="3.52" fill="#2b4d7c"/>
<path d="M249.09,446.74 L249.09,451.07 M247.09,446.74 L251.09,446.74 M247.09,451.07 L251.09,451.07" stroke="#2b4d7c" stroke-width="0.9" fill="none"/>
<rect x="247.33" y="447.15" width="3.52" height="3.52" fill="#2b4d7c"/>
<path d="M267.30,412.13 L267.30,419.71 M265.30,412.13 L269.30,412.13 M265.30,419.71 L269.30,419.71" stroke="#2b4d7c" stroke-width="0.9" fill="none"/>
<rect x="265.54" y="414.16" width="3.52" height="3.52" fill="#2b4d7c"/>
<path d="M328.00,398.21 L328.00,406.86 M326.00,398.21 L330.00,398.21 M326.00,406.86 L330.00,406.86" stroke="#2b4d7c" stroke-width="0.9" fill="none"/>
<rect x="326.24" y="400.77" width="3.52" height="3.52" fill="#2b4d7c"/>
<polyline points="206.60,461.98 230.88,449.77 249.09,433.70 267.30,427.49 328.00,408.21" fill="none" stroke="#c21f78" stroke-width="1.35" stroke-linejoin="round"/>
<path d="M206.60,460.35 L206.60,463.60 M204.60,460.35 L208.60,460.35 M204.60,463.60 L208.60,463.60" stroke="#c21f78" stroke-width="0.9" fill="none"/>
<polygon points="204.58,460.46 208.62,460.46 206.60,463.80" fill="#c21f78"/>
<path d="M230.88,448.14 L230.88,451.39 M228.88,448.14 L232.88,448.14 M228.88,451.39 L232.88,451.39" stroke="#c21f78" stroke-width="0.9" fill="none"/>
<polygon points="228.86,448.25 232.90,448.25 230.88,451.59" fill="#c21f78"/>
<path d="M249.09,431.00 L249.09,436.41 M247.09,431.00 L251.09,431.00 M247.09,436.41 L251.09,436.41" stroke="#c21f78" stroke-width="0.9" fill="none"/>
<polygon points="247.07,432.18 251.11,432.18 249.09,435.52" fill="#c21f78"/>
<path d="M267.30,424.24 L267.30,430.74 M265.30,424.24 L269.30,424.24 M265.30,430.74 L269.30,430.74" stroke="#c21f78" stroke-width="0.9" fill="none"/>
<polygon points="265.28,425.97 269.32,425.97 267.30,429.31" fill="#c21f78"/>
<path d="M328.00,402.80 L328.00,413.62 M326.00,402.80 L330.00,402.80 M326.00,413.62 L330.00,413.62" stroke="#c21f78" stroke-width="0.9" fill="none"/>
<polygon points="325.98,406.69 330.02,406.69 328.00,410.03" fill="#c21f78"/>
<polyline points="206.60,469.04 230.88,461.76 249.09,439.27 267.30,424.60 328.00,423.74" fill="none" stroke="#78b048" stroke-width="1.35" stroke-linejoin="round"/>
<polygon points="206.60,466.93 208.71,469.04 206.60,471.16 204.49,469.04" fill="#78b048"/>
<polygon points="230.88,459.65 232.99,461.76 230.88,463.87 228.77,461.76" fill="#78b048"/>
<polygon points="249.09,437.16 251.20,439.27 249.09,441.38 246.98,439.27" fill="#78b048"/>
<path d="M267.30,422.43 L267.30,426.76 M265.30,422.43 L269.30,422.43 M265.30,426.76 L269.30,426.76" stroke="#78b048" stroke-width="0.9" fill="none"/>
<polygon points="267.30,422.49 269.41,424.60 267.30,426.71 265.19,424.60" fill="#78b048"/>
<path d="M328.00,417.25 L328.00,430.23 M326.00,417.25 L330.00,417.25 M326.00,430.23 L330.00,430.23" stroke="#78b048" stroke-width="0.9" fill="none"/>
<polygon points="328.00,421.63 330.11,423.74 328.00,425.85 325.89,423.74" fill="#78b048"/>
<polyline points="206.60,461.98 230.88,459.08 249.09,455.98 267.30,446.02 328.00,420.53" fill="none" stroke="#9c1a3a" stroke-width="1.35" stroke-linejoin="round"/>
<circle cx="206.60" cy="461.98" r="1.85" fill="#9c1a3a"/>
<circle cx="230.88" cy="459.08" r="1.85" fill="#9c1a3a"/>
<path d="M249.09,454.35 L249.09,457.60 M247.09,454.35 L251.09,454.35 M247.09,457.60 L251.09,457.60" stroke="#9c1a3a" stroke-width="0.9" fill="none"/>
<circle cx="249.09" cy="455.98" r="1.85" fill="#9c1a3a"/>
<path d="M267.30,444.39 L267.30,447.64 M265.30,444.39 L269.30,444.39 M265.30,447.64 L269.30,447.64" stroke="#9c1a3a" stroke-width="0.9" fill="none"/>
<circle cx="267.30" cy="446.02" r="1.85" fill="#9c1a3a"/>
<path d="M328.00,417.28 L328.00,423.77 M326.00,417.28 L330.00,417.28 M326.00,423.77 L330.00,423.77" stroke="#9c1a3a" stroke-width="0.9" fill="none"/>
<circle cx="328.00" cy="420.53" r="1.85" fill="#9c1a3a"/>
<polyline points="206.60,446.12 230.88,429.31 249.09,411.85 267.30,397.50 328.00,386.36" fill="none" stroke="#3a2862" stroke-width="1.35" stroke-linejoin="round"/>
<path d="M206.60,443.96 L206.60,448.29 M204.60,443.96 L208.60,443.96 M204.60,448.29 L208.60,448.29" stroke="#3a2862" stroke-width="0.9" fill="none"/>
<rect x="204.84" y="444.36" width="3.52" height="3.52" fill="#3a2862"/>
<path d="M230.88,427.69 L230.88,430.93 M228.88,427.69 L232.88,427.69 M228.88,430.93 L232.88,430.93" stroke="#3a2862" stroke-width="0.9" fill="none"/>
<rect x="229.12" y="427.55" width="3.52" height="3.52" fill="#3a2862"/>
<path d="M249.09,408.06 L249.09,415.64 M247.09,408.06 L251.09,408.06 M247.09,415.64 L251.09,415.64" stroke="#3a2862" stroke-width="0.9" fill="none"/>
<rect x="247.33" y="410.09" width="3.52" height="3.52" fill="#3a2862"/>
<path d="M267.30,392.63 L267.30,402.37 M265.30,392.63 L269.30,392.63 M265.30,402.37 L269.30,402.37" stroke="#3a2862" stroke-width="0.9" fill="none"/>
<rect x="265.54" y="395.74" width="3.52" height="3.52" fill="#3a2862"/>
<path d="M328.00,383.66 L328.00,389.07 M326.00,383.66 L330.00,383.66 M326.00,389.07 L330.00,389.07" stroke="#3a2862" stroke-width="0.9" fill="none"/>
<rect x="326.24" y="384.60" width="3.52" height="3.52" fill="#3a2862"/>
<line x1="336.00" y1="382.70" x2="345.00" y2="382.70" stroke="#9c1a3a" stroke-width="1.6" />
<circle cx="340.60" cy="382.70" r="2.62" fill="#9c1a3a"/>
<text x="350.4" y="384.20" font-size="6.1" fill="#111" stroke="#111" stroke-width="0.18" textLength="78.8" lengthAdjust="spacingAndGlyphs"><tspan>NKG2D</tspan><tspan dy="-2.7" font-size="4.0">+</tspan><tspan dy="2.7"> cells among NKT cells</tspan></text>
<line x1="336.00" y1="394.00" x2="345.00" y2="394.00" stroke="#2b4d7c" stroke-width="1.6" />
<rect x="338.10" y="391.50" width="5.00" height="5.00" fill="#2b4d7c"/>
<text x="350.4" y="394.80" font-size="6.1" fill="#111" stroke="#111" stroke-width="0.18" textLength="70.2" lengthAdjust="spacingAndGlyphs"><tspan>PD1</tspan><tspan dy="-2.7" font-size="4.0">+</tspan><tspan dy="2.7"> cells among NKT cells</tspan></text>
<line x1="336.00" y1="404.60" x2="345.00" y2="404.60" stroke="#c21f78" stroke-width="1.6" />
<polygon points="337.73,402.44 343.48,402.44 340.60,407.19" fill="#c21f78"/>
<text x="350.4" y="406.20" font-size="6.1" fill="#111" stroke="#111" stroke-width="0.18" textLength="86.5" lengthAdjust="spacingAndGlyphs"><tspan>PD1</tspan><tspan dy="-2.7" font-size="4.0">+</tspan><tspan dy="2.7"> cells among CD4</tspan><tspan dy="-2.7" font-size="4.0">+</tspan><tspan dy="2.7"> Tcon cells</tspan></text>
<line x1="336.00" y1="416.20" x2="345.00" y2="416.20" stroke="#78b048" stroke-width="1.6" />
<polygon points="340.60,413.20 343.60,416.20 340.60,419.20 337.60,416.20" fill="#78b048"/>
<text x="350.4" y="417.70" font-size="6.1" fill="#111" stroke="#111" stroke-width="0.18" textLength="86.5" lengthAdjust="spacingAndGlyphs"><tspan>PD1</tspan><tspan dy="-2.7" font-size="4.0">+</tspan><tspan dy="2.7"> cells among CD8</tspan><tspan dy="-2.7" font-size="4.0">+</tspan><tspan dy="2.7"> Tcon cells</tspan></text>
<line x1="336.00" y1="426.10" x2="345.00" y2="426.10" stroke="#3a2862" stroke-width="1.6" />
<rect x="338.10" y="423.60" width="5.00" height="5.00" fill="#3a2862"/>
<text x="350.4" y="427.90" font-size="6.1" fill="#111" stroke="#111" stroke-width="0.18" textLength="70.6" lengthAdjust="spacingAndGlyphs"><tspan>PD1</tspan><tspan dy="-2.7" font-size="4.0">+</tspan><tspan dy="2.7"> cells among Treg cells</tspan></text>
<rect x="0" y="0" width="520" height="2.0" fill="#000"/><rect x="0" y="0" width="1.7" height="508" fill="#000"/><rect x="518.4" y="0" width="1.6" height="508" fill="#000"/><rect x="0" y="505.9" width="520" height="2.1" fill="#000"/></g>
</svg>
</body></html>
